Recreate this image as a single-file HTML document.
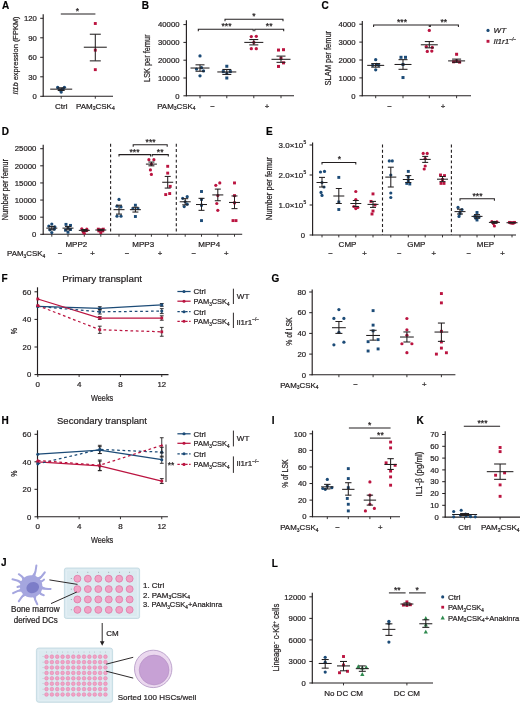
<!DOCTYPE html>
<html><head><meta charset="utf-8"><title>Figure</title>
<style>
html,body{margin:0;padding:0;background:#fff;}
body{width:520px;height:704px;overflow:hidden;}
svg{display:block;will-change:transform;}
text{stroke:#231f20;stroke-width:0.22px;font-family:"Liberation Sans", sans-serif;}
</style></head>
<body>
<svg width="520" height="704" viewBox="0 0 520 704">
<rect width="520" height="704" fill="#fff"/>
<text x="1.9" y="9.2" font-size="10" font-weight="bold" fill="#000">A</text>
<line x1="43.2" y1="14.3" x2="43.2" y2="96.8" stroke="#231f20" stroke-width="1.15"/>
<line x1="40.2" y1="96.3" x2="43.2" y2="96.3" stroke="#231f20" stroke-width="1.0"/>
<text x="36.8" y="99.05" font-size="7.7" text-anchor="end" fill="#231f20">0</text>
<line x1="40.2" y1="76.8" x2="43.2" y2="76.8" stroke="#231f20" stroke-width="1.0"/>
<text x="36.8" y="79.55" font-size="7.7" text-anchor="end" textLength="8.6" lengthAdjust="spacingAndGlyphs" fill="#231f20">30</text>
<line x1="40.2" y1="57.3" x2="43.2" y2="57.3" stroke="#231f20" stroke-width="1.0"/>
<text x="36.8" y="60.05" font-size="7.7" text-anchor="end" textLength="8.6" lengthAdjust="spacingAndGlyphs" fill="#231f20">60</text>
<line x1="40.2" y1="37.8" x2="43.2" y2="37.8" stroke="#231f20" stroke-width="1.0"/>
<text x="36.8" y="40.55" font-size="7.7" text-anchor="end" textLength="8.6" lengthAdjust="spacingAndGlyphs" fill="#231f20">90</text>
<line x1="40.2" y1="18.3" x2="43.2" y2="18.3" stroke="#231f20" stroke-width="1.0"/>
<text x="36.8" y="21.05" font-size="7.7" text-anchor="end" textLength="12.9" lengthAdjust="spacingAndGlyphs" fill="#231f20">120</text>
<line x1="42.7" y1="96.3" x2="113" y2="96.3" stroke="#231f20" stroke-width="1.1"/>
<line x1="61.2" y1="96.3" x2="61.2" y2="98.7" stroke="#231f20" stroke-width="0.9"/>
<line x1="95.3" y1="96.3" x2="95.3" y2="98.7" stroke="#231f20" stroke-width="0.9"/>
<text x="0" y="0" font-size="7.7" text-anchor="middle" fill="#231f20" transform="translate(18.4 55.4) rotate(-90)" textLength="78" lengthAdjust="spacingAndGlyphs"><tspan font-style="italic">Il1b</tspan> expression (FPKM)</text>
<text x="61.2" y="108.6" font-size="8" text-anchor="middle" fill="#231f20">Ctrl</text>
<text x="95.3" y="108.6" font-size="8" text-anchor="middle" fill="#231f20">PAM<tspan font-size="4.96" dy="1.6">3</tspan><tspan dy="-1.6">CSK</tspan><tspan font-size="4.96" dy="1.6">4</tspan><tspan dy="-1.6"></tspan></text>
<path d="M60.8 13.9 L60.8 13.9 L95.4 13.9 L95.4 13.9" fill="none" stroke="#231f20" stroke-width="1.05"/>
<text x="77.5" y="14.2" font-size="8.6" text-anchor="middle" fill="#231f20">*</text>
<circle cx="57.7" cy="87.52" r="1.65" fill="#1c4b77"/>
<circle cx="64.4" cy="87.33" r="1.65" fill="#1c4b77"/>
<circle cx="61.2" cy="92.08" r="1.65" fill="#1c4b77"/>
<circle cx="59.7" cy="89.8" r="1.65" fill="#1c4b77"/>
<circle cx="62.7" cy="89.15" r="1.65" fill="#1c4b77"/>
<line x1="50.2" y1="89.15" x2="72.2" y2="89.15" stroke="#231f20" stroke-width="1.05"/>
<line x1="61.2" y1="87.85" x2="61.2" y2="90.45" stroke="#231f20" stroke-width="1.05"/>
<line x1="57.7" y1="87.85" x2="64.7" y2="87.85" stroke="#231f20" stroke-width="1.05"/>
<line x1="57.7" y1="90.45" x2="64.7" y2="90.45" stroke="#231f20" stroke-width="1.05"/>
<rect x="93.85" y="22.05" width="2.9" height="2.9" fill="#bb1440"/>
<rect x="93.85" y="48.7" width="2.9" height="2.9" fill="#bb1440"/>
<rect x="93.85" y="68.2" width="2.9" height="2.9" fill="#bb1440"/>
<line x1="83.8" y1="47.22" x2="106.8" y2="47.22" stroke="#231f20" stroke-width="1.05"/>
<line x1="95.3" y1="34.22" x2="95.3" y2="60.87" stroke="#231f20" stroke-width="1.05"/>
<line x1="89.8" y1="34.22" x2="100.8" y2="34.22" stroke="#231f20" stroke-width="1.05"/>
<line x1="89.8" y1="60.87" x2="100.8" y2="60.87" stroke="#231f20" stroke-width="1.05"/>
<text x="141.7" y="9.3" font-size="10" font-weight="bold" fill="#000">B</text>
<line x1="186.4" y1="20.2" x2="186.4" y2="96.3" stroke="#231f20" stroke-width="1.15"/>
<line x1="183.4" y1="95.8" x2="186.4" y2="95.8" stroke="#231f20" stroke-width="1.0"/>
<text x="179.5" y="98.55" font-size="7.7" text-anchor="end" fill="#231f20">0</text>
<line x1="183.4" y1="78" x2="186.4" y2="78" stroke="#231f20" stroke-width="1.0"/>
<text x="179.5" y="80.75" font-size="7.7" text-anchor="end" textLength="21.5" lengthAdjust="spacingAndGlyphs" fill="#231f20">10000</text>
<line x1="183.4" y1="60.2" x2="186.4" y2="60.2" stroke="#231f20" stroke-width="1.0"/>
<text x="179.5" y="62.95" font-size="7.7" text-anchor="end" textLength="21.5" lengthAdjust="spacingAndGlyphs" fill="#231f20">20000</text>
<line x1="183.4" y1="42.4" x2="186.4" y2="42.4" stroke="#231f20" stroke-width="1.0"/>
<text x="179.5" y="45.15" font-size="7.7" text-anchor="end" textLength="21.5" lengthAdjust="spacingAndGlyphs" fill="#231f20">30000</text>
<line x1="183.4" y1="24.6" x2="186.4" y2="24.6" stroke="#231f20" stroke-width="1.0"/>
<text x="179.5" y="27.35" font-size="7.7" text-anchor="end" textLength="21.5" lengthAdjust="spacingAndGlyphs" fill="#231f20">40000</text>
<line x1="185.9" y1="95.8" x2="294" y2="95.8" stroke="#231f20" stroke-width="1.1"/>
<line x1="200" y1="95.8" x2="200" y2="98.2" stroke="#231f20" stroke-width="0.9"/>
<line x1="226.8" y1="95.8" x2="226.8" y2="98.2" stroke="#231f20" stroke-width="0.9"/>
<line x1="253.8" y1="95.8" x2="253.8" y2="98.2" stroke="#231f20" stroke-width="0.9"/>
<line x1="281" y1="95.8" x2="281" y2="98.2" stroke="#231f20" stroke-width="0.9"/>
<text x="0" y="0" font-size="8.3" text-anchor="middle" fill="#231f20" transform="translate(149.8 58.2) rotate(-90)" textLength="47.5" lengthAdjust="spacingAndGlyphs">LSK per femur</text>
<text x="157.2" y="108.8" font-size="7.9" fill="#231f20">PAM<tspan font-size="4.9" dy="1.6">3</tspan><tspan dy="-1.6">CSK</tspan><tspan font-size="4.9" dy="1.6">4</tspan><tspan dy="-1.6"></tspan></text>
<text x="212.5" y="108.6" font-size="7.8" text-anchor="middle" fill="#231f20">−</text>
<text x="267" y="108.6" font-size="7.8" text-anchor="middle" fill="#231f20">+</text>
<path d="M225 21.2 L225 19.2 L283 19.2 L283 21.2" fill="none" stroke="#231f20" stroke-width="1.05"/>
<text x="254" y="18.9" font-size="8.6" text-anchor="middle" fill="#231f20">*</text>
<path d="M198.3 31.3 L198.3 29.3 L253.2 29.3 L253.2 31.3" fill="none" stroke="#231f20" stroke-width="1.05"/>
<path d="M254.8 31.3 L254.8 29.3 L283.7 29.3 L283.7 31.3" fill="none" stroke="#231f20" stroke-width="1.05"/>
<text x="226.5" y="29.2" font-size="8.6" text-anchor="middle" fill="#231f20">***</text>
<text x="269.2" y="29.2" font-size="8.6" text-anchor="middle" fill="#231f20">**</text>
<circle cx="200" cy="55.93" r="1.65" fill="#1c4b77"/>
<circle cx="196.5" cy="69.1" r="1.65" fill="#1c4b77"/>
<circle cx="203.5" cy="70.88" r="1.65" fill="#1c4b77"/>
<circle cx="200" cy="75.79" r="1.65" fill="#1c4b77"/>
<circle cx="201.5" cy="67.68" r="1.65" fill="#1c4b77"/>
<line x1="190.5" y1="68.03" x2="209.5" y2="68.03" stroke="#231f20" stroke-width="1.05"/>
<line x1="200" y1="64.83" x2="200" y2="71.24" stroke="#231f20" stroke-width="1.05"/>
<line x1="195.5" y1="64.83" x2="204.5" y2="64.83" stroke="#231f20" stroke-width="1.05"/>
<line x1="195.5" y1="71.24" x2="204.5" y2="71.24" stroke="#231f20" stroke-width="1.05"/>
<rect x="225.3" y="64.75" width="3" height="3" fill="#1c4b77"/>
<rect x="221.8" y="70.09" width="3" height="3" fill="#1c4b77"/>
<rect x="228.8" y="70.09" width="3" height="3" fill="#1c4b77"/>
<rect x="225.3" y="76.5" width="3" height="3" fill="#1c4b77"/>
<rect x="225.3" y="72.05" width="3" height="3" fill="#1c4b77"/>
<line x1="217.3" y1="71.95" x2="236.3" y2="71.95" stroke="#231f20" stroke-width="1.05"/>
<line x1="226.8" y1="69.46" x2="226.8" y2="74.44" stroke="#231f20" stroke-width="1.05"/>
<line x1="222.3" y1="69.46" x2="231.3" y2="69.46" stroke="#231f20" stroke-width="1.05"/>
<line x1="222.3" y1="74.44" x2="231.3" y2="74.44" stroke="#231f20" stroke-width="1.05"/>
<circle cx="251.3" cy="36.53" r="1.65" fill="#bb1440"/>
<circle cx="256.3" cy="36.35" r="1.65" fill="#bb1440"/>
<circle cx="251.3" cy="48.63" r="1.65" fill="#bb1440"/>
<circle cx="256.3" cy="48.63" r="1.65" fill="#bb1440"/>
<circle cx="253.8" cy="42.4" r="1.65" fill="#bb1440"/>
<line x1="244.3" y1="42.4" x2="263.3" y2="42.4" stroke="#231f20" stroke-width="1.05"/>
<line x1="253.8" y1="39.55" x2="253.8" y2="44.89" stroke="#231f20" stroke-width="1.05"/>
<line x1="249.3" y1="39.55" x2="258.3" y2="39.55" stroke="#231f20" stroke-width="1.05"/>
<line x1="249.3" y1="44.89" x2="258.3" y2="44.89" stroke="#231f20" stroke-width="1.05"/>
<rect x="277" y="48.55" width="3" height="3" fill="#bb1440"/>
<rect x="282" y="48.2" width="3" height="3" fill="#bb1440"/>
<rect x="279.5" y="56.92" width="3" height="3" fill="#bb1440"/>
<rect x="277" y="64.93" width="3" height="3" fill="#bb1440"/>
<rect x="282" y="61.37" width="3" height="3" fill="#bb1440"/>
<line x1="271.5" y1="59.31" x2="290.5" y2="59.31" stroke="#231f20" stroke-width="1.05"/>
<line x1="281" y1="56.11" x2="281" y2="62.34" stroke="#231f20" stroke-width="1.05"/>
<line x1="276.5" y1="56.11" x2="285.5" y2="56.11" stroke="#231f20" stroke-width="1.05"/>
<line x1="276.5" y1="62.34" x2="285.5" y2="62.34" stroke="#231f20" stroke-width="1.05"/>
<text x="321.6" y="9.3" font-size="10" font-weight="bold" fill="#000">C</text>
<line x1="362.3" y1="21" x2="362.3" y2="96.3" stroke="#231f20" stroke-width="1.15"/>
<line x1="359.3" y1="95.8" x2="362.3" y2="95.8" stroke="#231f20" stroke-width="1.0"/>
<text x="355.6" y="98.55" font-size="7.7" text-anchor="end" fill="#231f20">0</text>
<line x1="359.3" y1="77.9" x2="362.3" y2="77.9" stroke="#231f20" stroke-width="1.0"/>
<text x="355.6" y="80.65" font-size="7.7" text-anchor="end" textLength="17.2" lengthAdjust="spacingAndGlyphs" fill="#231f20">1000</text>
<line x1="359.3" y1="60" x2="362.3" y2="60" stroke="#231f20" stroke-width="1.0"/>
<text x="355.6" y="62.75" font-size="7.7" text-anchor="end" textLength="17.2" lengthAdjust="spacingAndGlyphs" fill="#231f20">2000</text>
<line x1="359.3" y1="42.1" x2="362.3" y2="42.1" stroke="#231f20" stroke-width="1.0"/>
<text x="355.6" y="44.85" font-size="7.7" text-anchor="end" textLength="17.2" lengthAdjust="spacingAndGlyphs" fill="#231f20">3000</text>
<line x1="359.3" y1="24.2" x2="362.3" y2="24.2" stroke="#231f20" stroke-width="1.0"/>
<text x="355.6" y="26.95" font-size="7.7" text-anchor="end" textLength="17.2" lengthAdjust="spacingAndGlyphs" fill="#231f20">4000</text>
<line x1="361.8" y1="95.8" x2="471" y2="95.8" stroke="#231f20" stroke-width="1.1"/>
<line x1="375.7" y1="95.8" x2="375.7" y2="98.2" stroke="#231f20" stroke-width="0.9"/>
<line x1="403" y1="95.8" x2="403" y2="98.2" stroke="#231f20" stroke-width="0.9"/>
<line x1="429.3" y1="95.8" x2="429.3" y2="98.2" stroke="#231f20" stroke-width="0.9"/>
<line x1="456.6" y1="95.8" x2="456.6" y2="98.2" stroke="#231f20" stroke-width="0.9"/>
<text x="0" y="0" font-size="8.3" text-anchor="middle" fill="#231f20" transform="translate(331.2 58.2) rotate(-90)" textLength="54.5" lengthAdjust="spacingAndGlyphs">SLAM per femur</text>
<text x="389.5" y="108.6" font-size="7.8" text-anchor="middle" fill="#231f20">−</text>
<text x="443.1" y="108.6" font-size="7.8" text-anchor="middle" fill="#231f20">+</text>
<path d="M373.6 27 L373.6 25 L429.3 25 L429.3 27" fill="none" stroke="#231f20" stroke-width="1.05"/>
<path d="M430.3 27 L430.3 25 L458.4 25 L458.4 27" fill="none" stroke="#231f20" stroke-width="1.05"/>
<text x="402" y="24.9" font-size="8.6" text-anchor="middle" fill="#231f20">***</text>
<text x="443.8" y="24.9" font-size="8.6" text-anchor="middle" fill="#231f20">**</text>
<circle cx="375.7" cy="59.64" r="1.65" fill="#1c4b77"/>
<circle cx="372.7" cy="65.37" r="1.65" fill="#1c4b77"/>
<circle cx="378.7" cy="65.37" r="1.65" fill="#1c4b77"/>
<circle cx="375.7" cy="69.84" r="1.65" fill="#1c4b77"/>
<circle cx="376.7" cy="64.47" r="1.65" fill="#1c4b77"/>
<line x1="367.2" y1="65.37" x2="384.2" y2="65.37" stroke="#231f20" stroke-width="1.05"/>
<line x1="375.7" y1="63.58" x2="375.7" y2="67.16" stroke="#231f20" stroke-width="1.05"/>
<line x1="371.2" y1="63.58" x2="380.2" y2="63.58" stroke="#231f20" stroke-width="1.05"/>
<line x1="371.2" y1="67.16" x2="380.2" y2="67.16" stroke="#231f20" stroke-width="1.05"/>
<rect x="399.5" y="55.81" width="3" height="3" fill="#1c4b77"/>
<rect x="404" y="55.81" width="3" height="3" fill="#1c4b77"/>
<rect x="401.5" y="62.97" width="3" height="3" fill="#1c4b77"/>
<rect x="401.5" y="76.04" width="3" height="3" fill="#1c4b77"/>
<line x1="394.5" y1="64.47" x2="411.5" y2="64.47" stroke="#231f20" stroke-width="1.05"/>
<line x1="403" y1="59.64" x2="403" y2="69.31" stroke="#231f20" stroke-width="1.05"/>
<line x1="398.5" y1="59.64" x2="407.5" y2="59.64" stroke="#231f20" stroke-width="1.05"/>
<line x1="398.5" y1="69.31" x2="407.5" y2="69.31" stroke="#231f20" stroke-width="1.05"/>
<circle cx="429.3" cy="30.47" r="1.65" fill="#bb1440"/>
<circle cx="426.3" cy="46.57" r="1.65" fill="#bb1440"/>
<circle cx="432.3" cy="47.47" r="1.65" fill="#bb1440"/>
<circle cx="427.3" cy="51.41" r="1.65" fill="#bb1440"/>
<circle cx="431.8" cy="51.05" r="1.65" fill="#bb1440"/>
<line x1="420.8" y1="44.78" x2="437.8" y2="44.78" stroke="#231f20" stroke-width="1.05"/>
<line x1="429.3" y1="41.56" x2="429.3" y2="47.83" stroke="#231f20" stroke-width="1.05"/>
<line x1="424.8" y1="41.56" x2="433.8" y2="41.56" stroke="#231f20" stroke-width="1.05"/>
<line x1="424.8" y1="47.83" x2="433.8" y2="47.83" stroke="#231f20" stroke-width="1.05"/>
<rect x="455.1" y="52.77" width="3" height="3" fill="#bb1440"/>
<rect x="452.1" y="60.29" width="3" height="3" fill="#bb1440"/>
<rect x="458.1" y="60.65" width="3" height="3" fill="#bb1440"/>
<rect x="455.1" y="59.39" width="3" height="3" fill="#bb1440"/>
<line x1="448.1" y1="60.89" x2="465.1" y2="60.89" stroke="#231f20" stroke-width="1.05"/>
<line x1="456.6" y1="59.1" x2="456.6" y2="62.33" stroke="#231f20" stroke-width="1.05"/>
<line x1="452.1" y1="59.1" x2="461.1" y2="59.1" stroke="#231f20" stroke-width="1.05"/>
<line x1="452.1" y1="62.33" x2="461.1" y2="62.33" stroke="#231f20" stroke-width="1.05"/>
<circle cx="488" cy="30.4" r="1.6" fill="#1c4b77"/>
<text x="493.6" y="33.1" font-size="8" font-style="italic" fill="#231f20">WT</text>
<rect x="486.55" y="39.85" width="2.9" height="2.9" fill="#bb1440"/>
<text x="493.6" y="44.2" font-size="8" font-style="italic" fill="#231f20">Il1r1<tspan font-size="4.9" dy="-3.3">−/−</tspan></text>
<text x="1.8" y="135" font-size="10" font-weight="bold" fill="#000">D</text>
<line x1="43.2" y1="144.8" x2="43.2" y2="234.8" stroke="#231f20" stroke-width="1.15"/>
<line x1="40.2" y1="234.3" x2="43.2" y2="234.3" stroke="#231f20" stroke-width="1.0"/>
<text x="36.3" y="237.05" font-size="7.7" text-anchor="end" fill="#231f20">0</text>
<line x1="40.2" y1="217.18" x2="43.2" y2="217.18" stroke="#231f20" stroke-width="1.0"/>
<text x="36.3" y="219.93" font-size="7.7" text-anchor="end" textLength="17.2" lengthAdjust="spacingAndGlyphs" fill="#231f20">5000</text>
<line x1="40.2" y1="200.06" x2="43.2" y2="200.06" stroke="#231f20" stroke-width="1.0"/>
<text x="36.3" y="202.81" font-size="7.7" text-anchor="end" textLength="21.5" lengthAdjust="spacingAndGlyphs" fill="#231f20">10000</text>
<line x1="40.2" y1="182.94" x2="43.2" y2="182.94" stroke="#231f20" stroke-width="1.0"/>
<text x="36.3" y="185.69" font-size="7.7" text-anchor="end" textLength="21.5" lengthAdjust="spacingAndGlyphs" fill="#231f20">15000</text>
<line x1="40.2" y1="165.82" x2="43.2" y2="165.82" stroke="#231f20" stroke-width="1.0"/>
<text x="36.3" y="168.57" font-size="7.7" text-anchor="end" textLength="21.5" lengthAdjust="spacingAndGlyphs" fill="#231f20">20000</text>
<line x1="40.2" y1="148.7" x2="43.2" y2="148.7" stroke="#231f20" stroke-width="1.0"/>
<text x="36.3" y="151.45" font-size="7.7" text-anchor="end" textLength="21.5" lengthAdjust="spacingAndGlyphs" fill="#231f20">25000</text>
<line x1="42.7" y1="234.3" x2="242.2" y2="234.3" stroke="#231f20" stroke-width="1.1"/>
<line x1="51.8" y1="234.3" x2="51.8" y2="236.7" stroke="#231f20" stroke-width="0.9"/>
<line x1="68" y1="234.3" x2="68" y2="236.7" stroke="#231f20" stroke-width="0.9"/>
<line x1="84.3" y1="234.3" x2="84.3" y2="236.7" stroke="#231f20" stroke-width="0.9"/>
<line x1="100.8" y1="234.3" x2="100.8" y2="236.7" stroke="#231f20" stroke-width="0.9"/>
<line x1="119" y1="234.3" x2="119" y2="236.7" stroke="#231f20" stroke-width="0.9"/>
<line x1="135.4" y1="234.3" x2="135.4" y2="236.7" stroke="#231f20" stroke-width="0.9"/>
<line x1="151.4" y1="234.3" x2="151.4" y2="236.7" stroke="#231f20" stroke-width="0.9"/>
<line x1="167.7" y1="234.3" x2="167.7" y2="236.7" stroke="#231f20" stroke-width="0.9"/>
<line x1="185.2" y1="234.3" x2="185.2" y2="236.7" stroke="#231f20" stroke-width="0.9"/>
<line x1="201.5" y1="234.3" x2="201.5" y2="236.7" stroke="#231f20" stroke-width="0.9"/>
<line x1="217.8" y1="234.3" x2="217.8" y2="236.7" stroke="#231f20" stroke-width="0.9"/>
<line x1="234.5" y1="234.3" x2="234.5" y2="236.7" stroke="#231f20" stroke-width="0.9"/>
<line x1="110.6" y1="143.8" x2="110.6" y2="234.3" stroke="#231f20" stroke-width="1.1" stroke-dasharray="2.9,2.4"/>
<line x1="176.3" y1="143.8" x2="176.3" y2="234.3" stroke="#231f20" stroke-width="1.1" stroke-dasharray="2.9,2.4"/>
<text x="0" y="0" font-size="8.3" text-anchor="middle" fill="#231f20" transform="translate(8 189.8) rotate(-90)" textLength="61.5" lengthAdjust="spacingAndGlyphs">Number per femur</text>
<text x="76.3" y="246.7" font-size="8" text-anchor="middle" fill="#231f20">MPP2</text>
<text x="143.2" y="246.7" font-size="8" text-anchor="middle" fill="#231f20">MPP3</text>
<text x="209.2" y="246.7" font-size="8" text-anchor="middle" fill="#231f20">MPP4</text>
<text x="7" y="256.4" font-size="7.9" fill="#231f20">PAM<tspan font-size="4.9" dy="1.6">3</tspan><tspan dy="-1.6">CSK</tspan><tspan font-size="4.9" dy="1.6">4</tspan><tspan dy="-1.6"></tspan></text>
<text x="60" y="256.2" font-size="7.8" text-anchor="middle" fill="#231f20">−</text>
<text x="92.5" y="256.2" font-size="7.8" text-anchor="middle" fill="#231f20">+</text>
<text x="127" y="256.2" font-size="7.8" text-anchor="middle" fill="#231f20">−</text>
<text x="160" y="256.2" font-size="7.8" text-anchor="middle" fill="#231f20">+</text>
<text x="193.8" y="256.2" font-size="7.8" text-anchor="middle" fill="#231f20">−</text>
<text x="226.2" y="256.2" font-size="7.8" text-anchor="middle" fill="#231f20">+</text>
<path d="M133.2 146.8 L133.2 144.8 L167.2 144.8 L167.2 146.8" fill="none" stroke="#231f20" stroke-width="1.05"/>
<text x="150.6" y="144.7" font-size="8.6" text-anchor="middle" fill="#231f20">***</text>
<path d="M119 156.6 L119 154.6 L150.6 154.6 L150.6 156.6" fill="none" stroke="#231f20" stroke-width="1.05"/>
<path d="M152.2 156.6 L152.2 154.6 L168.3 154.6 L168.3 156.6" fill="none" stroke="#231f20" stroke-width="1.05"/>
<text x="134.5" y="154.5" font-size="8.6" text-anchor="middle" fill="#231f20">***</text>
<text x="160.2" y="154.5" font-size="8.6" text-anchor="middle" fill="#231f20">**</text>
<circle cx="51.8" cy="224.03" r="1.6" fill="#1c4b77"/>
<circle cx="48.8" cy="226.08" r="1.6" fill="#1c4b77"/>
<circle cx="54.8" cy="226.77" r="1.6" fill="#1c4b77"/>
<circle cx="49.8" cy="229.85" r="1.6" fill="#1c4b77"/>
<circle cx="51.8" cy="232.59" r="1.6" fill="#1c4b77"/>
<circle cx="54.3" cy="229.16" r="1.6" fill="#1c4b77"/>
<line x1="46.3" y1="228.14" x2="57.3" y2="228.14" stroke="#231f20" stroke-width="1.05"/>
<line x1="51.8" y1="226.42" x2="51.8" y2="229.85" stroke="#231f20" stroke-width="1.05"/>
<line x1="48.8" y1="226.42" x2="54.8" y2="226.42" stroke="#231f20" stroke-width="1.05"/>
<line x1="48.8" y1="229.85" x2="54.8" y2="229.85" stroke="#231f20" stroke-width="1.05"/>
<rect x="64.55" y="222.92" width="2.9" height="2.9" fill="#1c4b77"/>
<rect x="69.05" y="223.95" width="2.9" height="2.9" fill="#1c4b77"/>
<rect x="66.55" y="226.34" width="2.9" height="2.9" fill="#1c4b77"/>
<rect x="64.05" y="228.74" width="2.9" height="2.9" fill="#1c4b77"/>
<rect x="69.05" y="228.06" width="2.9" height="2.9" fill="#1c4b77"/>
<rect x="66.55" y="230.8" width="2.9" height="2.9" fill="#1c4b77"/>
<line x1="62.5" y1="228.14" x2="73.5" y2="228.14" stroke="#231f20" stroke-width="1.05"/>
<line x1="68" y1="226.42" x2="68" y2="229.85" stroke="#231f20" stroke-width="1.05"/>
<line x1="65" y1="226.42" x2="71" y2="226.42" stroke="#231f20" stroke-width="1.05"/>
<line x1="65" y1="229.85" x2="71" y2="229.85" stroke="#231f20" stroke-width="1.05"/>
<circle cx="81.8" cy="228.82" r="1.6" fill="#bb1440"/>
<circle cx="86.8" cy="229.16" r="1.6" fill="#bb1440"/>
<circle cx="84.3" cy="230.88" r="1.6" fill="#bb1440"/>
<circle cx="83.3" cy="231.9" r="1.6" fill="#bb1440"/>
<circle cx="84.3" cy="233.27" r="1.6" fill="#bb1440"/>
<circle cx="86.8" cy="230.53" r="1.6" fill="#bb1440"/>
<line x1="78.8" y1="230.36" x2="89.8" y2="230.36" stroke="#231f20" stroke-width="1.05"/>
<line x1="84.3" y1="229.51" x2="84.3" y2="231.22" stroke="#231f20" stroke-width="1.05"/>
<line x1="81.3" y1="229.51" x2="87.3" y2="229.51" stroke="#231f20" stroke-width="1.05"/>
<line x1="81.3" y1="231.22" x2="87.3" y2="231.22" stroke="#231f20" stroke-width="1.05"/>
<rect x="96.85" y="227.71" width="2.9" height="2.9" fill="#bb1440"/>
<rect x="101.85" y="227.71" width="2.9" height="2.9" fill="#bb1440"/>
<rect x="99.35" y="228.4" width="2.9" height="2.9" fill="#bb1440"/>
<rect x="97.35" y="229.43" width="2.9" height="2.9" fill="#bb1440"/>
<rect x="101.35" y="229.43" width="2.9" height="2.9" fill="#bb1440"/>
<rect x="99.35" y="231.14" width="2.9" height="2.9" fill="#bb1440"/>
<line x1="95.3" y1="230.02" x2="106.3" y2="230.02" stroke="#231f20" stroke-width="1.05"/>
<line x1="100.8" y1="229.34" x2="100.8" y2="230.7" stroke="#231f20" stroke-width="1.05"/>
<line x1="97.8" y1="229.34" x2="103.8" y2="229.34" stroke="#231f20" stroke-width="1.05"/>
<line x1="97.8" y1="230.7" x2="103.8" y2="230.7" stroke="#231f20" stroke-width="1.05"/>
<circle cx="119" cy="199.38" r="1.6" fill="#1c4b77"/>
<circle cx="117" cy="206.22" r="1.6" fill="#1c4b77"/>
<circle cx="121" cy="206.91" r="1.6" fill="#1c4b77"/>
<circle cx="117" cy="216.15" r="1.6" fill="#1c4b77"/>
<circle cx="121" cy="216.15" r="1.6" fill="#1c4b77"/>
<line x1="113.5" y1="209.65" x2="124.5" y2="209.65" stroke="#231f20" stroke-width="1.05"/>
<line x1="119" y1="205.2" x2="119" y2="214.1" stroke="#231f20" stroke-width="1.05"/>
<line x1="116" y1="205.2" x2="122" y2="205.2" stroke="#231f20" stroke-width="1.05"/>
<line x1="116" y1="214.1" x2="122" y2="214.1" stroke="#231f20" stroke-width="1.05"/>
<rect x="133.95" y="203.75" width="2.9" height="2.9" fill="#1c4b77"/>
<rect x="131.45" y="207.17" width="2.9" height="2.9" fill="#1c4b77"/>
<rect x="136.45" y="207.17" width="2.9" height="2.9" fill="#1c4b77"/>
<rect x="133.95" y="215.05" width="2.9" height="2.9" fill="#1c4b77"/>
<line x1="129.9" y1="209.65" x2="140.9" y2="209.65" stroke="#231f20" stroke-width="1.05"/>
<line x1="135.4" y1="207.25" x2="135.4" y2="212.04" stroke="#231f20" stroke-width="1.05"/>
<line x1="132.4" y1="207.25" x2="138.4" y2="207.25" stroke="#231f20" stroke-width="1.05"/>
<line x1="132.4" y1="212.04" x2="138.4" y2="212.04" stroke="#231f20" stroke-width="1.05"/>
<circle cx="148.9" cy="159.66" r="1.6" fill="#bb1440"/>
<circle cx="153.9" cy="159.66" r="1.6" fill="#bb1440"/>
<circle cx="151.4" cy="164.11" r="1.6" fill="#bb1440"/>
<circle cx="150.4" cy="169.93" r="1.6" fill="#bb1440"/>
<circle cx="151.4" cy="174.38" r="1.6" fill="#bb1440"/>
<line x1="145.9" y1="164.11" x2="156.9" y2="164.11" stroke="#231f20" stroke-width="1.05"/>
<line x1="151.4" y1="162.05" x2="151.4" y2="165.82" stroke="#231f20" stroke-width="1.05"/>
<line x1="148.4" y1="162.05" x2="154.4" y2="162.05" stroke="#231f20" stroke-width="1.05"/>
<line x1="148.4" y1="165.82" x2="154.4" y2="165.82" stroke="#231f20" stroke-width="1.05"/>
<rect x="166.25" y="164.85" width="2.9" height="2.9" fill="#bb1440"/>
<rect x="166.25" y="171.66" width="2.9" height="2.9" fill="#bb1440"/>
<rect x="168.75" y="184.91" width="2.9" height="2.9" fill="#bb1440"/>
<rect x="164.25" y="193.13" width="2.9" height="2.9" fill="#bb1440"/>
<rect x="168.25" y="192.1" width="2.9" height="2.9" fill="#bb1440"/>
<line x1="162.2" y1="182.26" x2="173.2" y2="182.26" stroke="#231f20" stroke-width="1.05"/>
<line x1="167.7" y1="176.43" x2="167.7" y2="188.08" stroke="#231f20" stroke-width="1.05"/>
<line x1="164.7" y1="176.43" x2="170.7" y2="176.43" stroke="#231f20" stroke-width="1.05"/>
<line x1="164.7" y1="188.08" x2="170.7" y2="188.08" stroke="#231f20" stroke-width="1.05"/>
<circle cx="187.2" cy="196.64" r="1.6" fill="#1c4b77"/>
<circle cx="182.7" cy="198.35" r="1.6" fill="#1c4b77"/>
<circle cx="185.2" cy="201.77" r="1.6" fill="#1c4b77"/>
<circle cx="187.2" cy="204.17" r="1.6" fill="#1c4b77"/>
<circle cx="184.2" cy="206.57" r="1.6" fill="#1c4b77"/>
<line x1="179.7" y1="201.77" x2="190.7" y2="201.77" stroke="#231f20" stroke-width="1.05"/>
<line x1="185.2" y1="198.69" x2="185.2" y2="204.85" stroke="#231f20" stroke-width="1.05"/>
<line x1="182.2" y1="198.69" x2="188.2" y2="198.69" stroke="#231f20" stroke-width="1.05"/>
<line x1="182.2" y1="204.85" x2="188.2" y2="204.85" stroke="#231f20" stroke-width="1.05"/>
<rect x="200.05" y="190.05" width="2.9" height="2.9" fill="#1c4b77"/>
<rect x="200.05" y="197.93" width="2.9" height="2.9" fill="#1c4b77"/>
<rect x="200.05" y="203.75" width="2.9" height="2.9" fill="#1c4b77"/>
<rect x="200.05" y="219.15" width="2.9" height="2.9" fill="#1c4b77"/>
<line x1="196" y1="204.51" x2="207" y2="204.51" stroke="#231f20" stroke-width="1.05"/>
<line x1="201.5" y1="198.35" x2="201.5" y2="210.33" stroke="#231f20" stroke-width="1.05"/>
<line x1="198.5" y1="198.35" x2="204.5" y2="198.35" stroke="#231f20" stroke-width="1.05"/>
<line x1="198.5" y1="210.33" x2="204.5" y2="210.33" stroke="#231f20" stroke-width="1.05"/>
<circle cx="219.8" cy="182.94" r="1.6" fill="#bb1440"/>
<circle cx="215.8" cy="185.34" r="1.6" fill="#bb1440"/>
<circle cx="217.8" cy="195.61" r="1.6" fill="#bb1440"/>
<circle cx="216.8" cy="203.48" r="1.6" fill="#bb1440"/>
<circle cx="217.8" cy="210.33" r="1.6" fill="#bb1440"/>
<line x1="212.3" y1="194.92" x2="223.3" y2="194.92" stroke="#231f20" stroke-width="1.05"/>
<line x1="217.8" y1="189.1" x2="217.8" y2="200.74" stroke="#231f20" stroke-width="1.05"/>
<line x1="214.8" y1="189.1" x2="220.8" y2="189.1" stroke="#231f20" stroke-width="1.05"/>
<line x1="214.8" y1="200.74" x2="220.8" y2="200.74" stroke="#231f20" stroke-width="1.05"/>
<rect x="233.05" y="181.49" width="2.9" height="2.9" fill="#bb1440"/>
<rect x="233.05" y="194.16" width="2.9" height="2.9" fill="#bb1440"/>
<rect x="233.05" y="201.35" width="2.9" height="2.9" fill="#bb1440"/>
<rect x="231.55" y="219.15" width="2.9" height="2.9" fill="#bb1440"/>
<rect x="234.55" y="219.15" width="2.9" height="2.9" fill="#bb1440"/>
<line x1="229" y1="202.46" x2="240" y2="202.46" stroke="#231f20" stroke-width="1.05"/>
<line x1="234.5" y1="195.95" x2="234.5" y2="208.62" stroke="#231f20" stroke-width="1.05"/>
<line x1="231.5" y1="195.95" x2="237.5" y2="195.95" stroke="#231f20" stroke-width="1.05"/>
<line x1="231.5" y1="208.62" x2="237.5" y2="208.62" stroke="#231f20" stroke-width="1.05"/>
<text x="265.9" y="135.2" font-size="10" font-weight="bold" fill="#000">E</text>
<line x1="312.6" y1="142.5" x2="312.6" y2="235.5" stroke="#231f20" stroke-width="1.15"/>
<line x1="309.6" y1="235" x2="312.6" y2="235" stroke="#231f20" stroke-width="1.0"/>
<text x="305" y="237.75" font-size="7.7" text-anchor="end" fill="#231f20">0</text>
<line x1="309.6" y1="205" x2="312.6" y2="205" stroke="#231f20" stroke-width="1.0"/>
<text x="278.6" y="207.75" font-size="7.7" fill="#231f20" textLength="24.6" lengthAdjust="spacingAndGlyphs">1.0×10</text><text x="303.4" y="204.4" font-size="4.9" fill="#231f20">5</text>
<line x1="309.6" y1="175" x2="312.6" y2="175" stroke="#231f20" stroke-width="1.0"/>
<text x="278.6" y="177.75" font-size="7.7" fill="#231f20" textLength="24.6" lengthAdjust="spacingAndGlyphs">2.0×10</text><text x="303.4" y="174.4" font-size="4.9" fill="#231f20">5</text>
<line x1="309.6" y1="145" x2="312.6" y2="145" stroke="#231f20" stroke-width="1.0"/>
<text x="278.6" y="147.75" font-size="7.7" fill="#231f20" textLength="24.6" lengthAdjust="spacingAndGlyphs">3.0×10</text><text x="303.4" y="144.4" font-size="4.9" fill="#231f20">5</text>
<line x1="312.1" y1="235" x2="516" y2="235" stroke="#231f20" stroke-width="1.1"/>
<line x1="322" y1="235" x2="322" y2="237.4" stroke="#231f20" stroke-width="0.9"/>
<line x1="338.8" y1="235" x2="338.8" y2="237.4" stroke="#231f20" stroke-width="0.9"/>
<line x1="355.8" y1="235" x2="355.8" y2="237.4" stroke="#231f20" stroke-width="0.9"/>
<line x1="373" y1="235" x2="373" y2="237.4" stroke="#231f20" stroke-width="0.9"/>
<line x1="390.8" y1="235" x2="390.8" y2="237.4" stroke="#231f20" stroke-width="0.9"/>
<line x1="408.3" y1="235" x2="408.3" y2="237.4" stroke="#231f20" stroke-width="0.9"/>
<line x1="425.2" y1="235" x2="425.2" y2="237.4" stroke="#231f20" stroke-width="0.9"/>
<line x1="442.5" y1="235" x2="442.5" y2="237.4" stroke="#231f20" stroke-width="0.9"/>
<line x1="460" y1="235" x2="460" y2="237.4" stroke="#231f20" stroke-width="0.9"/>
<line x1="477" y1="235" x2="477" y2="237.4" stroke="#231f20" stroke-width="0.9"/>
<line x1="494.4" y1="235" x2="494.4" y2="237.4" stroke="#231f20" stroke-width="0.9"/>
<line x1="512" y1="235" x2="512" y2="237.4" stroke="#231f20" stroke-width="0.9"/>
<line x1="382.5" y1="144.5" x2="382.5" y2="235" stroke="#231f20" stroke-width="1.1" stroke-dasharray="2.9,2.4"/>
<line x1="451.4" y1="144.5" x2="451.4" y2="235" stroke="#231f20" stroke-width="1.1" stroke-dasharray="2.9,2.4"/>
<text x="0" y="0" font-size="8.3" text-anchor="middle" fill="#231f20" transform="translate(272.4 188.7) rotate(-90)" textLength="63" lengthAdjust="spacingAndGlyphs">Number per femur</text>
<text x="347.5" y="247" font-size="8" text-anchor="middle" fill="#231f20">CMP</text>
<text x="416.3" y="247" font-size="8" text-anchor="middle" fill="#231f20">GMP</text>
<text x="485.5" y="247" font-size="8" text-anchor="middle" fill="#231f20">MEP</text>
<text x="330.5" y="256.4" font-size="7.8" text-anchor="middle" fill="#231f20">−</text>
<text x="364.5" y="256.4" font-size="7.8" text-anchor="middle" fill="#231f20">+</text>
<text x="399.4" y="256.4" font-size="7.8" text-anchor="middle" fill="#231f20">−</text>
<text x="433.8" y="256.4" font-size="7.8" text-anchor="middle" fill="#231f20">+</text>
<text x="468.9" y="256.4" font-size="7.8" text-anchor="middle" fill="#231f20">−</text>
<text x="502.5" y="256.4" font-size="7.8" text-anchor="middle" fill="#231f20">+</text>
<path d="M322 164.5 L322 162.5 L355.8 162.5 L355.8 164.5" fill="none" stroke="#231f20" stroke-width="1.05"/>
<text x="339.5" y="162.4" font-size="8.6" text-anchor="middle" fill="#231f20">*</text>
<path d="M460 200.7 L460 198.7 L494.4 198.7 L494.4 200.7" fill="none" stroke="#231f20" stroke-width="1.05"/>
<text x="477.5" y="198.5" font-size="8.6" text-anchor="middle" fill="#231f20">***</text>
<circle cx="320.5" cy="172" r="1.6" fill="#1c4b77"/>
<circle cx="324.5" cy="171.4" r="1.6" fill="#1c4b77"/>
<circle cx="322" cy="182.5" r="1.6" fill="#1c4b77"/>
<circle cx="321" cy="192.4" r="1.6" fill="#1c4b77"/>
<circle cx="322" cy="195.4" r="1.6" fill="#1c4b77"/>
<circle cx="324" cy="187" r="1.6" fill="#1c4b77"/>
<line x1="316.5" y1="182.5" x2="327.5" y2="182.5" stroke="#231f20" stroke-width="1.05"/>
<line x1="322" y1="177.4" x2="322" y2="187" stroke="#231f20" stroke-width="1.05"/>
<line x1="319" y1="177.4" x2="325" y2="177.4" stroke="#231f20" stroke-width="1.05"/>
<line x1="319" y1="187" x2="325" y2="187" stroke="#231f20" stroke-width="1.05"/>
<rect x="337.35" y="175.95" width="2.9" height="2.9" fill="#1c4b77"/>
<rect x="337.35" y="200.55" width="2.9" height="2.9" fill="#1c4b77"/>
<rect x="337.35" y="208.05" width="2.9" height="2.9" fill="#1c4b77"/>
<line x1="333.3" y1="196" x2="344.3" y2="196" stroke="#231f20" stroke-width="1.05"/>
<line x1="338.8" y1="188.5" x2="338.8" y2="203.5" stroke="#231f20" stroke-width="1.05"/>
<line x1="335.8" y1="188.5" x2="341.8" y2="188.5" stroke="#231f20" stroke-width="1.05"/>
<line x1="335.8" y1="203.5" x2="341.8" y2="203.5" stroke="#231f20" stroke-width="1.05"/>
<circle cx="355.8" cy="191.5" r="1.6" fill="#bb1440"/>
<circle cx="355.8" cy="199.6" r="1.6" fill="#bb1440"/>
<circle cx="353.8" cy="206.5" r="1.6" fill="#bb1440"/>
<circle cx="357.8" cy="207.4" r="1.6" fill="#bb1440"/>
<circle cx="355.8" cy="208.6" r="1.6" fill="#bb1440"/>
<line x1="350.3" y1="203.5" x2="361.3" y2="203.5" stroke="#231f20" stroke-width="1.05"/>
<line x1="355.8" y1="200.5" x2="355.8" y2="206.5" stroke="#231f20" stroke-width="1.05"/>
<line x1="352.8" y1="200.5" x2="358.8" y2="200.5" stroke="#231f20" stroke-width="1.05"/>
<line x1="352.8" y1="206.5" x2="358.8" y2="206.5" stroke="#231f20" stroke-width="1.05"/>
<rect x="371.55" y="192.45" width="2.9" height="2.9" fill="#bb1440"/>
<rect x="369.55" y="199.95" width="2.9" height="2.9" fill="#bb1440"/>
<rect x="373.55" y="203.55" width="2.9" height="2.9" fill="#bb1440"/>
<rect x="371.55" y="209.55" width="2.9" height="2.9" fill="#bb1440"/>
<rect x="370.55" y="212.55" width="2.9" height="2.9" fill="#bb1440"/>
<line x1="367.5" y1="204.4" x2="378.5" y2="204.4" stroke="#231f20" stroke-width="1.05"/>
<line x1="373" y1="201.4" x2="373" y2="207.4" stroke="#231f20" stroke-width="1.05"/>
<line x1="370" y1="201.4" x2="376" y2="201.4" stroke="#231f20" stroke-width="1.05"/>
<line x1="370" y1="207.4" x2="376" y2="207.4" stroke="#231f20" stroke-width="1.05"/>
<circle cx="389.3" cy="160.9" r="1.6" fill="#1c4b77"/>
<circle cx="392.3" cy="160.9" r="1.6" fill="#1c4b77"/>
<circle cx="390.8" cy="175" r="1.6" fill="#1c4b77"/>
<circle cx="390.8" cy="193" r="1.6" fill="#1c4b77"/>
<circle cx="390.8" cy="197.5" r="1.6" fill="#1c4b77"/>
<line x1="385.3" y1="177.1" x2="396.3" y2="177.1" stroke="#231f20" stroke-width="1.05"/>
<line x1="390.8" y1="167.2" x2="390.8" y2="187" stroke="#231f20" stroke-width="1.05"/>
<line x1="387.8" y1="167.2" x2="393.8" y2="167.2" stroke="#231f20" stroke-width="1.05"/>
<line x1="387.8" y1="187" x2="393.8" y2="187" stroke="#231f20" stroke-width="1.05"/>
<rect x="406.85" y="169.95" width="2.9" height="2.9" fill="#1c4b77"/>
<rect x="406.85" y="175.65" width="2.9" height="2.9" fill="#1c4b77"/>
<rect x="405.35" y="181.95" width="2.9" height="2.9" fill="#1c4b77"/>
<rect x="408.35" y="182.55" width="2.9" height="2.9" fill="#1c4b77"/>
<rect x="406.85" y="179.55" width="2.9" height="2.9" fill="#1c4b77"/>
<line x1="402.8" y1="179.5" x2="413.8" y2="179.5" stroke="#231f20" stroke-width="1.05"/>
<line x1="408.3" y1="175.6" x2="408.3" y2="182.5" stroke="#231f20" stroke-width="1.05"/>
<line x1="405.3" y1="175.6" x2="411.3" y2="175.6" stroke="#231f20" stroke-width="1.05"/>
<line x1="405.3" y1="182.5" x2="411.3" y2="182.5" stroke="#231f20" stroke-width="1.05"/>
<circle cx="423.2" cy="153.4" r="1.6" fill="#bb1440"/>
<circle cx="427.2" cy="153.4" r="1.6" fill="#bb1440"/>
<circle cx="425.2" cy="158.5" r="1.6" fill="#bb1440"/>
<circle cx="425.2" cy="166" r="1.6" fill="#bb1440"/>
<circle cx="424.2" cy="169" r="1.6" fill="#bb1440"/>
<line x1="419.7" y1="159.4" x2="430.7" y2="159.4" stroke="#231f20" stroke-width="1.05"/>
<line x1="425.2" y1="156.4" x2="425.2" y2="162.4" stroke="#231f20" stroke-width="1.05"/>
<line x1="422.2" y1="156.4" x2="428.2" y2="156.4" stroke="#231f20" stroke-width="1.05"/>
<line x1="422.2" y1="162.4" x2="428.2" y2="162.4" stroke="#231f20" stroke-width="1.05"/>
<rect x="439.05" y="173.55" width="2.9" height="2.9" fill="#bb1440"/>
<rect x="443.05" y="174.15" width="2.9" height="2.9" fill="#bb1440"/>
<rect x="441.05" y="178.05" width="2.9" height="2.9" fill="#bb1440"/>
<rect x="439.55" y="181.95" width="2.9" height="2.9" fill="#bb1440"/>
<rect x="442.55" y="181.95" width="2.9" height="2.9" fill="#bb1440"/>
<line x1="437" y1="179.2" x2="448" y2="179.2" stroke="#231f20" stroke-width="1.05"/>
<line x1="442.5" y1="176.5" x2="442.5" y2="181.6" stroke="#231f20" stroke-width="1.05"/>
<line x1="439.5" y1="176.5" x2="445.5" y2="176.5" stroke="#231f20" stroke-width="1.05"/>
<line x1="439.5" y1="181.6" x2="445.5" y2="181.6" stroke="#231f20" stroke-width="1.05"/>
<circle cx="458" cy="207.4" r="1.6" fill="#1c4b77"/>
<circle cx="462" cy="209.5" r="1.6" fill="#1c4b77"/>
<circle cx="460" cy="212.5" r="1.6" fill="#1c4b77"/>
<circle cx="459" cy="216.4" r="1.6" fill="#1c4b77"/>
<circle cx="460" cy="214" r="1.6" fill="#1c4b77"/>
<line x1="454.5" y1="211.6" x2="465.5" y2="211.6" stroke="#231f20" stroke-width="1.05"/>
<line x1="460" y1="209.2" x2="460" y2="214" stroke="#231f20" stroke-width="1.05"/>
<line x1="457" y1="209.2" x2="463" y2="209.2" stroke="#231f20" stroke-width="1.05"/>
<line x1="457" y1="214" x2="463" y2="214" stroke="#231f20" stroke-width="1.05"/>
<rect x="475.55" y="211.05" width="2.9" height="2.9" fill="#1c4b77"/>
<rect x="473.55" y="214.95" width="2.9" height="2.9" fill="#1c4b77"/>
<rect x="477.55" y="215.55" width="2.9" height="2.9" fill="#1c4b77"/>
<rect x="475.55" y="218.55" width="2.9" height="2.9" fill="#1c4b77"/>
<rect x="474.55" y="216.75" width="2.9" height="2.9" fill="#1c4b77"/>
<line x1="471.5" y1="216.4" x2="482.5" y2="216.4" stroke="#231f20" stroke-width="1.05"/>
<line x1="477" y1="214.6" x2="477" y2="218.2" stroke="#231f20" stroke-width="1.05"/>
<line x1="474" y1="214.6" x2="480" y2="214.6" stroke="#231f20" stroke-width="1.05"/>
<line x1="474" y1="218.2" x2="480" y2="218.2" stroke="#231f20" stroke-width="1.05"/>
<circle cx="491.9" cy="221.5" r="1.6" fill="#bb1440"/>
<circle cx="496.9" cy="221.8" r="1.6" fill="#bb1440"/>
<circle cx="494.4" cy="222.4" r="1.6" fill="#bb1440"/>
<circle cx="494.4" cy="226" r="1.6" fill="#bb1440"/>
<circle cx="493.4" cy="223.6" r="1.6" fill="#bb1440"/>
<line x1="488.9" y1="222.4" x2="499.9" y2="222.4" stroke="#231f20" stroke-width="1.05"/>
<line x1="494.4" y1="221.5" x2="494.4" y2="223.3" stroke="#231f20" stroke-width="1.05"/>
<line x1="491.4" y1="221.5" x2="497.4" y2="221.5" stroke="#231f20" stroke-width="1.05"/>
<line x1="491.4" y1="223.3" x2="497.4" y2="223.3" stroke="#231f20" stroke-width="1.05"/>
<rect x="508.05" y="220.95" width="2.9" height="2.9" fill="#bb1440"/>
<rect x="513.05" y="220.95" width="2.9" height="2.9" fill="#bb1440"/>
<rect x="510.55" y="221.25" width="2.9" height="2.9" fill="#bb1440"/>
<rect x="509.55" y="221.55" width="2.9" height="2.9" fill="#bb1440"/>
<rect x="511.55" y="221.85" width="2.9" height="2.9" fill="#bb1440"/>
<line x1="506.5" y1="222.7" x2="517.5" y2="222.7" stroke="#231f20" stroke-width="1.05"/>
<line x1="512" y1="222.4" x2="512" y2="223" stroke="#231f20" stroke-width="1.05"/>
<line x1="509" y1="222.4" x2="515" y2="222.4" stroke="#231f20" stroke-width="1.05"/>
<line x1="509" y1="223" x2="515" y2="223" stroke="#231f20" stroke-width="1.05"/>
<text x="1.5" y="281.8" font-size="10" font-weight="bold" fill="#000">F</text>
<line x1="37.5" y1="287.3" x2="37.5" y2="375.1" stroke="#231f20" stroke-width="1.15"/>
<line x1="34.5" y1="374.6" x2="37.5" y2="374.6" stroke="#231f20" stroke-width="1.0"/>
<text x="31.2" y="377.35" font-size="7.7" text-anchor="end" fill="#231f20">0</text>
<line x1="34.5" y1="347" x2="37.5" y2="347" stroke="#231f20" stroke-width="1.0"/>
<text x="31.2" y="349.75" font-size="7.7" text-anchor="end" textLength="8.6" lengthAdjust="spacingAndGlyphs" fill="#231f20">20</text>
<line x1="34.5" y1="319.4" x2="37.5" y2="319.4" stroke="#231f20" stroke-width="1.0"/>
<text x="31.2" y="322.15" font-size="7.7" text-anchor="end" textLength="8.6" lengthAdjust="spacingAndGlyphs" fill="#231f20">40</text>
<line x1="34.5" y1="291.8" x2="37.5" y2="291.8" stroke="#231f20" stroke-width="1.0"/>
<text x="31.2" y="294.55" font-size="7.7" text-anchor="end" textLength="8.6" lengthAdjust="spacingAndGlyphs" fill="#231f20">60</text>
<line x1="37" y1="374.6" x2="168.5" y2="374.6" stroke="#231f20" stroke-width="1.1"/>
<line x1="37.8" y1="374.6" x2="37.8" y2="377" stroke="#231f20" stroke-width="0.9"/>
<line x1="79.12" y1="374.6" x2="79.12" y2="377" stroke="#231f20" stroke-width="0.9"/>
<line x1="120.44" y1="374.6" x2="120.44" y2="377" stroke="#231f20" stroke-width="0.9"/>
<line x1="161.76" y1="374.6" x2="161.76" y2="377" stroke="#231f20" stroke-width="0.9"/>
<text x="37.8" y="386.9" font-size="8.0" text-anchor="middle" fill="#231f20">0</text>
<text x="79.12" y="386.9" font-size="8.0" text-anchor="middle" fill="#231f20">4</text>
<text x="120.44" y="386.9" font-size="8.0" text-anchor="middle" fill="#231f20">8</text>
<text x="161.76" y="386.9" font-size="8.0" text-anchor="middle" textLength="8.6" lengthAdjust="spacingAndGlyphs" fill="#231f20">12</text>
<text x="102.1" y="400.7" font-size="9.4" text-anchor="middle" textLength="22.2" lengthAdjust="spacingAndGlyphs" fill="#231f20">Weeks</text>
<text x="0" y="0" font-size="9.4" text-anchor="middle" fill="#231f20" transform="translate(16.8 331.2) rotate(-90)" textLength="6.2" lengthAdjust="spacingAndGlyphs">%</text>
<text x="62.3" y="281.9" font-size="9.8" textLength="79.8" lengthAdjust="spacingAndGlyphs" fill="#231f20">Primary transplant</text>
<path d="M37.8 306.29 L99.78 308.36 L161.76 304.91" fill="none" stroke="#1c4b77" stroke-width="1.25"/>
<circle cx="37.8" cy="306.29" r="1.55" fill="#1c4b77"/>
<line x1="99.78" y1="306.7" x2="99.78" y2="310.02" stroke="#231f20" stroke-width="0.9"/>
<line x1="97.88" y1="306.7" x2="101.68" y2="306.7" stroke="#231f20" stroke-width="0.9"/>
<line x1="97.88" y1="310.02" x2="101.68" y2="310.02" stroke="#231f20" stroke-width="0.9"/>
<circle cx="99.78" cy="308.36" r="1.55" fill="#1c4b77"/>
<line x1="161.76" y1="303.53" x2="161.76" y2="306.29" stroke="#231f20" stroke-width="0.9"/>
<line x1="159.86" y1="303.53" x2="163.66" y2="303.53" stroke="#231f20" stroke-width="0.9"/>
<line x1="159.86" y1="306.29" x2="163.66" y2="306.29" stroke="#231f20" stroke-width="0.9"/>
<circle cx="161.76" cy="304.91" r="1.55" fill="#1c4b77"/>
<path d="M37.8 298.98 L99.78 318.02 L161.76 318.02" fill="none" stroke="#bb1440" stroke-width="1.25"/>
<rect x="36.4" y="297.58" width="2.8" height="2.8" fill="#bb1440"/>
<line x1="99.78" y1="316.64" x2="99.78" y2="319.4" stroke="#231f20" stroke-width="0.9"/>
<line x1="97.88" y1="316.64" x2="101.68" y2="316.64" stroke="#231f20" stroke-width="0.9"/>
<line x1="97.88" y1="319.4" x2="101.68" y2="319.4" stroke="#231f20" stroke-width="0.9"/>
<rect x="98.38" y="316.62" width="2.8" height="2.8" fill="#bb1440"/>
<line x1="161.76" y1="315.81" x2="161.76" y2="320.23" stroke="#231f20" stroke-width="0.9"/>
<line x1="159.86" y1="315.81" x2="163.66" y2="315.81" stroke="#231f20" stroke-width="0.9"/>
<line x1="159.86" y1="320.23" x2="163.66" y2="320.23" stroke="#231f20" stroke-width="0.9"/>
<rect x="160.36" y="316.62" width="2.8" height="2.8" fill="#bb1440"/>
<path d="M37.8 306.43 L99.78 311.81 L161.76 311.12" fill="none" stroke="#1c4b77" stroke-width="1.25" stroke-dasharray="2.7,2.7"/>
<circle cx="37.8" cy="306.43" r="1.55" fill="#1c4b77"/>
<line x1="99.78" y1="309.6" x2="99.78" y2="314.02" stroke="#231f20" stroke-width="0.9"/>
<line x1="97.88" y1="309.6" x2="101.68" y2="309.6" stroke="#231f20" stroke-width="0.9"/>
<line x1="97.88" y1="314.02" x2="101.68" y2="314.02" stroke="#231f20" stroke-width="0.9"/>
<circle cx="99.78" cy="311.81" r="1.55" fill="#1c4b77"/>
<line x1="161.76" y1="308.64" x2="161.76" y2="313.6" stroke="#231f20" stroke-width="0.9"/>
<line x1="159.86" y1="308.64" x2="163.66" y2="308.64" stroke="#231f20" stroke-width="0.9"/>
<line x1="159.86" y1="313.6" x2="163.66" y2="313.6" stroke="#231f20" stroke-width="0.9"/>
<circle cx="161.76" cy="311.12" r="1.55" fill="#1c4b77"/>
<path d="M37.8 305.6 L99.78 329.75 L161.76 331.82" fill="none" stroke="#bb1440" stroke-width="1.25" stroke-dasharray="2.7,2.7"/>
<rect x="36.4" y="304.2" width="2.8" height="2.8" fill="#bb1440"/>
<line x1="99.78" y1="326.16" x2="99.78" y2="333.34" stroke="#231f20" stroke-width="0.9"/>
<line x1="97.88" y1="326.16" x2="101.68" y2="326.16" stroke="#231f20" stroke-width="0.9"/>
<line x1="97.88" y1="333.34" x2="101.68" y2="333.34" stroke="#231f20" stroke-width="0.9"/>
<rect x="98.38" y="328.35" width="2.8" height="2.8" fill="#bb1440"/>
<line x1="161.76" y1="327.4" x2="161.76" y2="336.24" stroke="#231f20" stroke-width="0.9"/>
<line x1="159.86" y1="327.4" x2="163.66" y2="327.4" stroke="#231f20" stroke-width="0.9"/>
<line x1="159.86" y1="336.24" x2="163.66" y2="336.24" stroke="#231f20" stroke-width="0.9"/>
<rect x="160.36" y="330.42" width="2.8" height="2.8" fill="#bb1440"/>
<line x1="177.4" y1="291.5" x2="190.6" y2="291.5" stroke="#1c4b77" stroke-width="1.25"/>
<circle cx="184" cy="291.5" r="1.55" fill="#1c4b77"/>
<text x="193.6" y="294.3" font-size="7.9" fill="#231f20">Ctrl</text>
<line x1="177.4" y1="301.2" x2="190.6" y2="301.2" stroke="#bb1440" stroke-width="1.25"/>
<circle cx="184" cy="301.2" r="1.55" fill="#bb1440"/>
<text x="193.6" y="304" font-size="7.7" textLength="36" lengthAdjust="spacingAndGlyphs" fill="#231f20">PAM<tspan font-size="4.77" dy="1.6">3</tspan><tspan dy="-1.6">CSK</tspan><tspan font-size="4.77" dy="1.6">4</tspan><tspan dy="-1.6"></tspan></text>
<line x1="177.4" y1="311.7" x2="190.6" y2="311.7" stroke="#1c4b77" stroke-width="1.25" stroke-dasharray="2.4,1.5"/>
<circle cx="184" cy="311.7" r="1.55" fill="#1c4b77"/>
<text x="193.6" y="314.5" font-size="7.9" fill="#231f20">Ctrl</text>
<line x1="177.4" y1="321.3" x2="190.6" y2="321.3" stroke="#bb1440" stroke-width="1.25" stroke-dasharray="2.4,1.5"/>
<circle cx="184" cy="321.3" r="1.55" fill="#bb1440"/>
<text x="193.6" y="324.1" font-size="7.7" textLength="36" lengthAdjust="spacingAndGlyphs" fill="#231f20">PAM<tspan font-size="4.77" dy="1.6">3</tspan><tspan dy="-1.6">CSK</tspan><tspan font-size="4.77" dy="1.6">4</tspan><tspan dy="-1.6"></tspan></text>
<line x1="233.4" y1="288.7" x2="233.4" y2="304" stroke="#231f20" stroke-width="0.95"/>
<text x="236.8" y="299.2" font-size="8.1" fill="#231f20">WT</text>
<line x1="233.4" y1="312.7" x2="233.4" y2="328" stroke="#231f20" stroke-width="0.95"/>
<text x="236.4" y="324.7" font-size="8.1" fill="#231f20">Il1r1<tspan font-size="4.8" dy="-3.3">−/−</tspan></text>
<text x="271.5" y="281.8" font-size="10" font-weight="bold" fill="#000">G</text>
<line x1="312.2" y1="289.4" x2="312.2" y2="375.3" stroke="#231f20" stroke-width="1.15"/>
<line x1="309.2" y1="374.8" x2="312.2" y2="374.8" stroke="#231f20" stroke-width="1.0"/>
<text x="306" y="377.55" font-size="7.7" text-anchor="end" fill="#231f20">0</text>
<line x1="309.2" y1="354.1" x2="312.2" y2="354.1" stroke="#231f20" stroke-width="1.0"/>
<text x="306" y="356.85" font-size="7.7" text-anchor="end" textLength="8.6" lengthAdjust="spacingAndGlyphs" fill="#231f20">20</text>
<line x1="309.2" y1="333.4" x2="312.2" y2="333.4" stroke="#231f20" stroke-width="1.0"/>
<text x="306" y="336.15" font-size="7.7" text-anchor="end" textLength="8.6" lengthAdjust="spacingAndGlyphs" fill="#231f20">40</text>
<line x1="309.2" y1="312.7" x2="312.2" y2="312.7" stroke="#231f20" stroke-width="1.0"/>
<text x="306" y="315.45" font-size="7.7" text-anchor="end" textLength="8.6" lengthAdjust="spacingAndGlyphs" fill="#231f20">60</text>
<line x1="309.2" y1="292" x2="312.2" y2="292" stroke="#231f20" stroke-width="1.0"/>
<text x="306" y="294.75" font-size="7.7" text-anchor="end" textLength="8.6" lengthAdjust="spacingAndGlyphs" fill="#231f20">80</text>
<line x1="311.7" y1="374.8" x2="455.4" y2="374.8" stroke="#231f20" stroke-width="1.1"/>
<line x1="338.9" y1="374.8" x2="338.9" y2="377.2" stroke="#231f20" stroke-width="0.9"/>
<line x1="373.1" y1="374.8" x2="373.1" y2="377.2" stroke="#231f20" stroke-width="0.9"/>
<line x1="406.9" y1="374.8" x2="406.9" y2="377.2" stroke="#231f20" stroke-width="0.9"/>
<line x1="441.4" y1="374.8" x2="441.4" y2="377.2" stroke="#231f20" stroke-width="0.9"/>
<text x="0" y="0" font-size="8.3" text-anchor="middle" fill="#231f20" transform="translate(291.6 331.6) rotate(-90)" textLength="28.4" lengthAdjust="spacingAndGlyphs">% of LSK</text>
<text x="280.2" y="387.6" font-size="7.9" fill="#231f20">PAM<tspan font-size="4.9" dy="1.6">3</tspan><tspan dy="-1.6">CSK</tspan><tspan font-size="4.9" dy="1.6">4</tspan><tspan dy="-1.6"></tspan></text>
<text x="355.6" y="387.4" font-size="7.8" text-anchor="middle" fill="#231f20">−</text>
<text x="424.4" y="387.4" font-size="7.8" text-anchor="middle" fill="#231f20">+</text>
<circle cx="338.9" cy="309.6" r="1.6" fill="#1c4b77"/>
<circle cx="333.9" cy="318.39" r="1.6" fill="#1c4b77"/>
<circle cx="343.9" cy="318.39" r="1.6" fill="#1c4b77"/>
<circle cx="338.9" cy="332.37" r="1.6" fill="#1c4b77"/>
<circle cx="333.9" cy="344.79" r="1.6" fill="#1c4b77"/>
<circle cx="343.9" cy="342.2" r="1.6" fill="#1c4b77"/>
<line x1="332" y1="327.71" x2="345.8" y2="327.71" stroke="#231f20" stroke-width="1.05"/>
<line x1="338.9" y1="321.5" x2="338.9" y2="333.4" stroke="#231f20" stroke-width="1.05"/>
<line x1="335.4" y1="321.5" x2="342.4" y2="321.5" stroke="#231f20" stroke-width="1.05"/>
<line x1="335.4" y1="333.4" x2="342.4" y2="333.4" stroke="#231f20" stroke-width="1.05"/>
<rect x="371.65" y="309.18" width="2.9" height="2.9" fill="#1c4b77"/>
<rect x="371.65" y="323.67" width="2.9" height="2.9" fill="#1c4b77"/>
<rect x="371.65" y="329.36" width="2.9" height="2.9" fill="#1c4b77"/>
<rect x="366.65" y="340.23" width="2.9" height="2.9" fill="#1c4b77"/>
<rect x="376.65" y="338.16" width="2.9" height="2.9" fill="#1c4b77"/>
<rect x="366.65" y="349.55" width="2.9" height="2.9" fill="#1c4b77"/>
<rect x="376.65" y="347.48" width="2.9" height="2.9" fill="#1c4b77"/>
<line x1="366.2" y1="335.47" x2="380" y2="335.47" stroke="#231f20" stroke-width="1.05"/>
<line x1="373.1" y1="330.3" x2="373.1" y2="340.13" stroke="#231f20" stroke-width="1.05"/>
<line x1="369.6" y1="330.3" x2="376.6" y2="330.3" stroke="#231f20" stroke-width="1.05"/>
<line x1="369.6" y1="340.13" x2="376.6" y2="340.13" stroke="#231f20" stroke-width="1.05"/>
<circle cx="406.9" cy="318.5" r="1.6" fill="#bb1440"/>
<circle cx="406.9" cy="329.78" r="1.6" fill="#bb1440"/>
<circle cx="406.9" cy="335.16" r="1.6" fill="#bb1440"/>
<circle cx="401.9" cy="343.75" r="1.6" fill="#bb1440"/>
<circle cx="411.9" cy="343.75" r="1.6" fill="#bb1440"/>
<circle cx="406.9" cy="352.65" r="1.6" fill="#bb1440"/>
<line x1="400" y1="337.02" x2="413.8" y2="337.02" stroke="#231f20" stroke-width="1.05"/>
<line x1="406.9" y1="331.95" x2="406.9" y2="341.99" stroke="#231f20" stroke-width="1.05"/>
<line x1="403.4" y1="331.95" x2="410.4" y2="331.95" stroke="#231f20" stroke-width="1.05"/>
<line x1="403.4" y1="341.99" x2="410.4" y2="341.99" stroke="#231f20" stroke-width="1.05"/>
<rect x="439.95" y="292.1" width="2.9" height="2.9" fill="#bb1440"/>
<rect x="439.95" y="301.42" width="2.9" height="2.9" fill="#bb1440"/>
<rect x="439.95" y="329.88" width="2.9" height="2.9" fill="#bb1440"/>
<rect x="439.95" y="340.54" width="2.9" height="2.9" fill="#bb1440"/>
<rect x="439.95" y="346.65" width="2.9" height="2.9" fill="#bb1440"/>
<rect x="434.95" y="352.65" width="2.9" height="2.9" fill="#bb1440"/>
<rect x="444.95" y="351.3" width="2.9" height="2.9" fill="#bb1440"/>
<line x1="434.5" y1="332.05" x2="448.3" y2="332.05" stroke="#231f20" stroke-width="1.05"/>
<line x1="441.4" y1="323.05" x2="441.4" y2="341.37" stroke="#231f20" stroke-width="1.05"/>
<line x1="437.9" y1="323.05" x2="444.9" y2="323.05" stroke="#231f20" stroke-width="1.05"/>
<line x1="437.9" y1="341.37" x2="444.9" y2="341.37" stroke="#231f20" stroke-width="1.05"/>
<text x="1.5" y="423.8" font-size="10" font-weight="bold" fill="#000">H</text>
<line x1="37.5" y1="430.3" x2="37.5" y2="517.3" stroke="#231f20" stroke-width="1.15"/>
<line x1="34.5" y1="516.8" x2="37.5" y2="516.8" stroke="#231f20" stroke-width="1.0"/>
<text x="31.2" y="519.55" font-size="7.7" text-anchor="end" fill="#231f20">0</text>
<line x1="34.5" y1="489.3" x2="37.5" y2="489.3" stroke="#231f20" stroke-width="1.0"/>
<text x="31.2" y="492.05" font-size="7.7" text-anchor="end" textLength="8.6" lengthAdjust="spacingAndGlyphs" fill="#231f20">20</text>
<line x1="34.5" y1="461.8" x2="37.5" y2="461.8" stroke="#231f20" stroke-width="1.0"/>
<text x="31.2" y="464.55" font-size="7.7" text-anchor="end" textLength="8.6" lengthAdjust="spacingAndGlyphs" fill="#231f20">40</text>
<line x1="34.5" y1="434.3" x2="37.5" y2="434.3" stroke="#231f20" stroke-width="1.0"/>
<text x="31.2" y="437.05" font-size="7.7" text-anchor="end" textLength="8.6" lengthAdjust="spacingAndGlyphs" fill="#231f20">60</text>
<line x1="37" y1="516.8" x2="167.9" y2="516.8" stroke="#231f20" stroke-width="1.1"/>
<line x1="37.8" y1="516.8" x2="37.8" y2="519.2" stroke="#231f20" stroke-width="0.9"/>
<line x1="79.12" y1="516.8" x2="79.12" y2="519.2" stroke="#231f20" stroke-width="0.9"/>
<line x1="120.44" y1="516.8" x2="120.44" y2="519.2" stroke="#231f20" stroke-width="0.9"/>
<line x1="161.76" y1="516.8" x2="161.76" y2="519.2" stroke="#231f20" stroke-width="0.9"/>
<text x="37.8" y="529.1" font-size="8.0" text-anchor="middle" fill="#231f20">0</text>
<text x="79.12" y="529.1" font-size="8.0" text-anchor="middle" fill="#231f20">4</text>
<text x="120.44" y="529.1" font-size="8.0" text-anchor="middle" fill="#231f20">8</text>
<text x="161.76" y="529.1" font-size="8.0" text-anchor="middle" textLength="8.6" lengthAdjust="spacingAndGlyphs" fill="#231f20">12</text>
<text x="102.1" y="542.9" font-size="9.4" text-anchor="middle" textLength="22.2" lengthAdjust="spacingAndGlyphs" fill="#231f20">Weeks</text>
<text x="0" y="0" font-size="9.4" text-anchor="middle" fill="#231f20" transform="translate(16.8 473.6) rotate(-90)" textLength="6.2" lengthAdjust="spacingAndGlyphs">%</text>
<text x="57" y="423.9" font-size="9.8" textLength="90" lengthAdjust="spacingAndGlyphs" fill="#231f20">Secondary transplant</text>
<path d="M37.8 454.24 L99.78 450.11 L161.76 459.74" fill="none" stroke="#1c4b77" stroke-width="1.25"/>
<circle cx="37.8" cy="454.24" r="1.55" fill="#1c4b77"/>
<line x1="99.78" y1="446.67" x2="99.78" y2="453.55" stroke="#231f20" stroke-width="0.9"/>
<line x1="97.88" y1="446.67" x2="101.68" y2="446.67" stroke="#231f20" stroke-width="0.9"/>
<line x1="97.88" y1="453.55" x2="101.68" y2="453.55" stroke="#231f20" stroke-width="0.9"/>
<circle cx="99.78" cy="450.11" r="1.55" fill="#1c4b77"/>
<line x1="161.76" y1="456.16" x2="161.76" y2="463.31" stroke="#231f20" stroke-width="0.9"/>
<line x1="159.86" y1="456.16" x2="163.66" y2="456.16" stroke="#231f20" stroke-width="0.9"/>
<line x1="159.86" y1="463.31" x2="163.66" y2="463.31" stroke="#231f20" stroke-width="0.9"/>
<circle cx="161.76" cy="459.74" r="1.55" fill="#1c4b77"/>
<path d="M37.8 461.8 L99.78 465.92 L161.76 481.05" fill="none" stroke="#bb1440" stroke-width="1.25"/>
<rect x="36.4" y="460.4" width="2.8" height="2.8" fill="#bb1440"/>
<line x1="99.78" y1="461.11" x2="99.78" y2="470.74" stroke="#231f20" stroke-width="0.9"/>
<line x1="97.88" y1="461.11" x2="101.68" y2="461.11" stroke="#231f20" stroke-width="0.9"/>
<line x1="97.88" y1="470.74" x2="101.68" y2="470.74" stroke="#231f20" stroke-width="0.9"/>
<rect x="98.38" y="464.52" width="2.8" height="2.8" fill="#bb1440"/>
<line x1="161.76" y1="478.57" x2="161.76" y2="483.52" stroke="#231f20" stroke-width="0.9"/>
<line x1="159.86" y1="478.57" x2="163.66" y2="478.57" stroke="#231f20" stroke-width="0.9"/>
<line x1="159.86" y1="483.52" x2="163.66" y2="483.52" stroke="#231f20" stroke-width="0.9"/>
<rect x="160.36" y="479.65" width="2.8" height="2.8" fill="#bb1440"/>
<path d="M37.8 463.86 L99.78 449.42 L161.76 452.17" fill="none" stroke="#1c4b77" stroke-width="1.25" stroke-dasharray="2.7,2.7"/>
<circle cx="37.8" cy="463.86" r="1.55" fill="#1c4b77"/>
<line x1="99.78" y1="445.3" x2="99.78" y2="453.55" stroke="#231f20" stroke-width="0.9"/>
<line x1="97.88" y1="445.3" x2="101.68" y2="445.3" stroke="#231f20" stroke-width="0.9"/>
<line x1="97.88" y1="453.55" x2="101.68" y2="453.55" stroke="#231f20" stroke-width="0.9"/>
<circle cx="99.78" cy="449.42" r="1.55" fill="#1c4b77"/>
<line x1="161.76" y1="447.36" x2="161.76" y2="456.99" stroke="#231f20" stroke-width="0.9"/>
<line x1="159.86" y1="447.36" x2="163.66" y2="447.36" stroke="#231f20" stroke-width="0.9"/>
<line x1="159.86" y1="456.99" x2="163.66" y2="456.99" stroke="#231f20" stroke-width="0.9"/>
<circle cx="161.76" cy="452.17" r="1.55" fill="#1c4b77"/>
<path d="M37.8 460.42 L99.78 465.24 L161.76 445.3" fill="none" stroke="#bb1440" stroke-width="1.25" stroke-dasharray="2.7,2.7"/>
<path d="M37.8 458.59 L39.45 461.65 L36.15 461.65Z" fill="#bb1440"/>
<line x1="99.78" y1="460.01" x2="99.78" y2="470.46" stroke="#231f20" stroke-width="0.9"/>
<line x1="97.88" y1="460.01" x2="101.68" y2="460.01" stroke="#231f20" stroke-width="0.9"/>
<line x1="97.88" y1="470.46" x2="101.68" y2="470.46" stroke="#231f20" stroke-width="0.9"/>
<path d="M99.78 463.4 L101.43 466.46 L98.13 466.46Z" fill="#bb1440"/>
<line x1="161.76" y1="437.74" x2="161.76" y2="452.86" stroke="#231f20" stroke-width="0.9"/>
<line x1="159.86" y1="437.74" x2="163.66" y2="437.74" stroke="#231f20" stroke-width="0.9"/>
<line x1="159.86" y1="452.86" x2="163.66" y2="452.86" stroke="#231f20" stroke-width="0.9"/>
<path d="M161.76 443.46 L163.41 446.52 L160.11 446.52Z" fill="#bb1440"/>
<line x1="166" y1="444.5" x2="166" y2="482" stroke="#231f20" stroke-width="0.95"/>
<text x="171" y="468.2" font-size="8.4" text-anchor="middle" fill="#231f20">**</text>
<line x1="177.4" y1="433.8" x2="190.6" y2="433.8" stroke="#1c4b77" stroke-width="1.25"/>
<circle cx="184" cy="433.8" r="1.55" fill="#1c4b77"/>
<text x="193.6" y="436.6" font-size="7.9" fill="#231f20">Ctrl</text>
<line x1="177.4" y1="443.3" x2="190.6" y2="443.3" stroke="#bb1440" stroke-width="1.25"/>
<circle cx="184" cy="443.3" r="1.55" fill="#bb1440"/>
<text x="193.6" y="446.1" font-size="7.7" textLength="36" lengthAdjust="spacingAndGlyphs" fill="#231f20">PAM<tspan font-size="4.77" dy="1.6">3</tspan><tspan dy="-1.6">CSK</tspan><tspan font-size="4.77" dy="1.6">4</tspan><tspan dy="-1.6"></tspan></text>
<line x1="177.4" y1="453.8" x2="190.6" y2="453.8" stroke="#1c4b77" stroke-width="1.25" stroke-dasharray="2.4,1.5"/>
<circle cx="184" cy="453.8" r="1.55" fill="#1c4b77"/>
<text x="193.6" y="456.6" font-size="7.9" fill="#231f20">Ctrl</text>
<line x1="177.4" y1="464.4" x2="190.6" y2="464.4" stroke="#bb1440" stroke-width="1.25" stroke-dasharray="2.4,1.5"/>
<circle cx="184" cy="464.4" r="1.55" fill="#bb1440"/>
<text x="193.6" y="467.2" font-size="7.7" textLength="36" lengthAdjust="spacingAndGlyphs" fill="#231f20">PAM<tspan font-size="4.77" dy="1.6">3</tspan><tspan dy="-1.6">CSK</tspan><tspan font-size="4.77" dy="1.6">4</tspan><tspan dy="-1.6"></tspan></text>
<line x1="233.4" y1="430.6" x2="233.4" y2="446.4" stroke="#231f20" stroke-width="0.95"/>
<text x="236.8" y="441.4" font-size="8.1" fill="#231f20">WT</text>
<line x1="233.4" y1="456.4" x2="233.4" y2="472.9" stroke="#231f20" stroke-width="0.95"/>
<text x="236.4" y="466.4" font-size="8.1" fill="#231f20">Il1r1<tspan font-size="4.8" dy="-3.3">−/−</tspan></text>
<text x="271.8" y="424" font-size="10" font-weight="bold" fill="#000">I</text>
<line x1="312.5" y1="430.6" x2="312.5" y2="517.2" stroke="#231f20" stroke-width="1.15"/>
<line x1="309.5" y1="516.7" x2="312.5" y2="516.7" stroke="#231f20" stroke-width="1.0"/>
<text x="306.6" y="519.45" font-size="7.7" text-anchor="end" fill="#231f20">0</text>
<line x1="309.5" y1="500.12" x2="312.5" y2="500.12" stroke="#231f20" stroke-width="1.0"/>
<text x="306.6" y="502.87" font-size="7.7" text-anchor="end" textLength="8.6" lengthAdjust="spacingAndGlyphs" fill="#231f20">20</text>
<line x1="309.5" y1="483.54" x2="312.5" y2="483.54" stroke="#231f20" stroke-width="1.0"/>
<text x="306.6" y="486.29" font-size="7.7" text-anchor="end" textLength="8.6" lengthAdjust="spacingAndGlyphs" fill="#231f20">40</text>
<line x1="309.5" y1="466.96" x2="312.5" y2="466.96" stroke="#231f20" stroke-width="1.0"/>
<text x="306.6" y="469.71" font-size="7.7" text-anchor="end" textLength="8.6" lengthAdjust="spacingAndGlyphs" fill="#231f20">60</text>
<line x1="309.5" y1="450.38" x2="312.5" y2="450.38" stroke="#231f20" stroke-width="1.0"/>
<text x="306.6" y="453.13" font-size="7.7" text-anchor="end" textLength="8.6" lengthAdjust="spacingAndGlyphs" fill="#231f20">80</text>
<line x1="309.5" y1="433.8" x2="312.5" y2="433.8" stroke="#231f20" stroke-width="1.0"/>
<text x="306.6" y="436.55" font-size="7.7" text-anchor="end" textLength="12.9" lengthAdjust="spacingAndGlyphs" fill="#231f20">100</text>
<line x1="312" y1="516.7" x2="400" y2="516.7" stroke="#231f20" stroke-width="1.1"/>
<line x1="327.3" y1="516.7" x2="327.3" y2="519.1" stroke="#231f20" stroke-width="0.9"/>
<line x1="348.3" y1="516.7" x2="348.3" y2="519.1" stroke="#231f20" stroke-width="0.9"/>
<line x1="369.9" y1="516.7" x2="369.9" y2="519.1" stroke="#231f20" stroke-width="0.9"/>
<line x1="390.6" y1="516.7" x2="390.6" y2="519.1" stroke="#231f20" stroke-width="0.9"/>
<text x="0" y="0" font-size="8.3" text-anchor="middle" fill="#231f20" transform="translate(288 473.7) rotate(-90)" textLength="28.3" lengthAdjust="spacingAndGlyphs">% of LSK</text>
<text x="280.2" y="530" font-size="7.9" fill="#231f20">PAM<tspan font-size="4.9" dy="1.6">3</tspan><tspan dy="-1.6">CSK</tspan><tspan font-size="4.9" dy="1.6">4</tspan><tspan dy="-1.6"></tspan></text>
<text x="337.5" y="529.8" font-size="7.8" text-anchor="middle" fill="#231f20">−</text>
<text x="380.4" y="529.8" font-size="7.8" text-anchor="middle" fill="#231f20">+</text>
<path d="M348.9 427.9 L348.9 427.9 L390.6 427.9 L390.6 427.9" fill="none" stroke="#231f20" stroke-width="1.05"/>
<text x="369.6" y="427.9" font-size="8.6" text-anchor="middle" fill="#231f20">*</text>
<path d="M369.9 438.1 L369.9 438.1 L390.6 438.1 L390.6 438.1" fill="none" stroke="#231f20" stroke-width="1.05"/>
<text x="380.4" y="438.1" font-size="8.6" text-anchor="middle" fill="#231f20">**</text>
<circle cx="327.3" cy="479.4" r="1.6" fill="#1c4b77"/>
<circle cx="322.8" cy="488.51" r="1.6" fill="#1c4b77"/>
<circle cx="331.8" cy="487.69" r="1.6" fill="#1c4b77"/>
<circle cx="327.3" cy="486.03" r="1.6" fill="#1c4b77"/>
<circle cx="325.3" cy="489.34" r="1.6" fill="#1c4b77"/>
<line x1="321.1" y1="486.86" x2="333.5" y2="486.86" stroke="#231f20" stroke-width="1.05"/>
<line x1="327.3" y1="484.37" x2="327.3" y2="488.93" stroke="#231f20" stroke-width="1.05"/>
<line x1="324.1" y1="484.37" x2="330.5" y2="484.37" stroke="#231f20" stroke-width="1.05"/>
<line x1="324.1" y1="488.93" x2="330.5" y2="488.93" stroke="#231f20" stroke-width="1.05"/>
<rect x="346.85" y="467.17" width="2.9" height="2.9" fill="#1c4b77"/>
<rect x="346.85" y="477.12" width="2.9" height="2.9" fill="#1c4b77"/>
<rect x="346.85" y="486.24" width="2.9" height="2.9" fill="#1c4b77"/>
<rect x="345.85" y="497.01" width="2.9" height="2.9" fill="#1c4b77"/>
<rect x="346.85" y="502.82" width="2.9" height="2.9" fill="#1c4b77"/>
<rect x="346.85" y="509.45" width="2.9" height="2.9" fill="#1c4b77"/>
<line x1="342.1" y1="489.34" x2="354.5" y2="489.34" stroke="#231f20" stroke-width="1.05"/>
<line x1="348.3" y1="482.71" x2="348.3" y2="495.15" stroke="#231f20" stroke-width="1.05"/>
<line x1="345.1" y1="482.71" x2="351.5" y2="482.71" stroke="#231f20" stroke-width="1.05"/>
<line x1="345.1" y1="495.15" x2="351.5" y2="495.15" stroke="#231f20" stroke-width="1.05"/>
<circle cx="369.9" cy="481.88" r="1.6" fill="#bb1440"/>
<circle cx="369.9" cy="495.15" r="1.6" fill="#bb1440"/>
<circle cx="369.9" cy="504.27" r="1.6" fill="#bb1440"/>
<circle cx="374.4" cy="508.41" r="1.6" fill="#bb1440"/>
<circle cx="365.4" cy="510.9" r="1.6" fill="#bb1440"/>
<line x1="363.7" y1="500.12" x2="376.1" y2="500.12" stroke="#231f20" stroke-width="1.05"/>
<line x1="369.9" y1="495.15" x2="369.9" y2="505.09" stroke="#231f20" stroke-width="1.05"/>
<line x1="366.7" y1="495.15" x2="373.1" y2="495.15" stroke="#231f20" stroke-width="1.05"/>
<line x1="366.7" y1="505.09" x2="373.1" y2="505.09" stroke="#231f20" stroke-width="1.05"/>
<rect x="389.15" y="440.64" width="2.9" height="2.9" fill="#bb1440"/>
<rect x="389.15" y="446.44" width="2.9" height="2.9" fill="#bb1440"/>
<rect x="384.65" y="461.37" width="2.9" height="2.9" fill="#bb1440"/>
<rect x="393.65" y="463.85" width="2.9" height="2.9" fill="#bb1440"/>
<rect x="389.15" y="469.66" width="2.9" height="2.9" fill="#bb1440"/>
<rect x="389.15" y="475.46" width="2.9" height="2.9" fill="#bb1440"/>
<rect x="389.15" y="483.75" width="2.9" height="2.9" fill="#bb1440"/>
<line x1="384.4" y1="464.47" x2="396.8" y2="464.47" stroke="#231f20" stroke-width="1.05"/>
<line x1="390.6" y1="458.67" x2="390.6" y2="469.45" stroke="#231f20" stroke-width="1.05"/>
<line x1="387.4" y1="458.67" x2="393.8" y2="458.67" stroke="#231f20" stroke-width="1.05"/>
<line x1="387.4" y1="469.45" x2="393.8" y2="469.45" stroke="#231f20" stroke-width="1.05"/>
<text x="416.6" y="424" font-size="10" font-weight="bold" fill="#000">K</text>
<line x1="445.2" y1="431.2" x2="445.2" y2="517.6" stroke="#231f20" stroke-width="1.15"/>
<line x1="442.2" y1="517.1" x2="445.2" y2="517.1" stroke="#231f20" stroke-width="1.0"/>
<text x="438.8" y="519.85" font-size="7.7" text-anchor="end" fill="#231f20">0</text>
<line x1="442.2" y1="505.3" x2="445.2" y2="505.3" stroke="#231f20" stroke-width="1.0"/>
<text x="438.8" y="508.05" font-size="7.7" text-anchor="end" textLength="8.6" lengthAdjust="spacingAndGlyphs" fill="#231f20">10</text>
<line x1="442.2" y1="493.5" x2="445.2" y2="493.5" stroke="#231f20" stroke-width="1.0"/>
<text x="438.8" y="496.25" font-size="7.7" text-anchor="end" textLength="8.6" lengthAdjust="spacingAndGlyphs" fill="#231f20">20</text>
<line x1="442.2" y1="481.7" x2="445.2" y2="481.7" stroke="#231f20" stroke-width="1.0"/>
<text x="438.8" y="484.45" font-size="7.7" text-anchor="end" textLength="8.6" lengthAdjust="spacingAndGlyphs" fill="#231f20">30</text>
<line x1="442.2" y1="469.9" x2="445.2" y2="469.9" stroke="#231f20" stroke-width="1.0"/>
<text x="438.8" y="472.65" font-size="7.7" text-anchor="end" textLength="8.6" lengthAdjust="spacingAndGlyphs" fill="#231f20">40</text>
<line x1="442.2" y1="458.1" x2="445.2" y2="458.1" stroke="#231f20" stroke-width="1.0"/>
<text x="438.8" y="460.85" font-size="7.7" text-anchor="end" textLength="8.6" lengthAdjust="spacingAndGlyphs" fill="#231f20">50</text>
<line x1="442.2" y1="446.3" x2="445.2" y2="446.3" stroke="#231f20" stroke-width="1.0"/>
<text x="438.8" y="449.05" font-size="7.7" text-anchor="end" textLength="8.6" lengthAdjust="spacingAndGlyphs" fill="#231f20">60</text>
<line x1="442.2" y1="434.5" x2="445.2" y2="434.5" stroke="#231f20" stroke-width="1.0"/>
<text x="438.8" y="437.25" font-size="7.7" text-anchor="end" textLength="8.6" lengthAdjust="spacingAndGlyphs" fill="#231f20">70</text>
<line x1="444.7" y1="517.1" x2="520" y2="517.1" stroke="#231f20" stroke-width="1.1"/>
<line x1="464.6" y1="517.1" x2="464.6" y2="519.5" stroke="#231f20" stroke-width="0.9"/>
<line x1="500.1" y1="517.1" x2="500.1" y2="519.5" stroke="#231f20" stroke-width="0.9"/>
<text x="0" y="0" font-size="8.3" text-anchor="middle" fill="#231f20" transform="translate(421.8 474) rotate(-90)" textLength="45" lengthAdjust="spacingAndGlyphs">IL1-β (pg/ml)</text>
<text x="464.6" y="530" font-size="8" text-anchor="middle" fill="#231f20">Ctrl</text>
<text x="480.9" y="530" font-size="8" fill="#231f20">PAM<tspan font-size="4.96" dy="1.6">3</tspan><tspan dy="-1.6">CSK</tspan><tspan font-size="4.96" dy="1.6">4</tspan><tspan dy="-1.6"></tspan></text>
<path d="M463.8 426.2 L463.8 426.2 L500.1 426.2 L500.1 426.2" fill="none" stroke="#231f20" stroke-width="1.05"/>
<text x="482.5" y="426.3" font-size="8.6" text-anchor="middle" fill="#231f20">***</text>
<circle cx="453.7" cy="511.44" r="1.55" fill="#1c4b77"/>
<circle cx="461.2" cy="510.26" r="1.55" fill="#1c4b77"/>
<circle cx="465.6" cy="514.15" r="1.55" fill="#1c4b77"/>
<circle cx="453.7" cy="516.86" r="1.55" fill="#1c4b77"/>
<circle cx="460.6" cy="515.33" r="1.55" fill="#1c4b77"/>
<circle cx="470.1" cy="515.57" r="1.55" fill="#1c4b77"/>
<circle cx="475.3" cy="516.86" r="1.55" fill="#1c4b77"/>
<circle cx="466.1" cy="515.92" r="1.55" fill="#1c4b77"/>
<circle cx="470.6" cy="516.75" r="1.55" fill="#1c4b77"/>
<line x1="452.1" y1="514.5" x2="477.1" y2="514.5" stroke="#231f20" stroke-width="1.05"/>
<line x1="464.6" y1="513.56" x2="464.6" y2="515.45" stroke="#231f20" stroke-width="1.05"/>
<line x1="460.1" y1="513.56" x2="469.1" y2="513.56" stroke="#231f20" stroke-width="1.05"/>
<line x1="460.1" y1="515.45" x2="469.1" y2="515.45" stroke="#231f20" stroke-width="1.05"/>
<rect x="498.65" y="446.03" width="2.9" height="2.9" fill="#bb1440"/>
<rect x="498.65" y="450.16" width="2.9" height="2.9" fill="#bb1440"/>
<rect x="494.15" y="473.76" width="2.9" height="2.9" fill="#bb1440"/>
<rect x="503.15" y="471.4" width="2.9" height="2.9" fill="#bb1440"/>
<rect x="498.65" y="483.44" width="2.9" height="2.9" fill="#bb1440"/>
<rect x="498.65" y="494.88" width="2.9" height="2.9" fill="#bb1440"/>
<line x1="486.8" y1="471.67" x2="513.4" y2="471.67" stroke="#231f20" stroke-width="1.05"/>
<line x1="500.1" y1="464" x2="500.1" y2="479.34" stroke="#231f20" stroke-width="1.05"/>
<line x1="494.1" y1="464" x2="506.1" y2="464" stroke="#231f20" stroke-width="1.05"/>
<line x1="494.1" y1="479.34" x2="506.1" y2="479.34" stroke="#231f20" stroke-width="1.05"/>
<text x="1" y="566.2" font-size="10" font-weight="bold" fill="#000">J</text>
<path d="M33.25 578.15 Q35.99 572.12 36.4 565.5" stroke="#a5a6df" stroke-width="2.0" stroke-linecap="round" fill="none"/>
<path d="M35.7 578.25 L35 571.12 L31.04 577.09Z" fill="#a5a6df"/>
<path d="M25.14 580.44 Q22.81 576.46 18.8 574.2" stroke="#a5a6df" stroke-width="2.0" stroke-linecap="round" fill="none"/>
<path d="M26.47 578.38 L21.31 576.67 L23.1 581.8Z" fill="#a5a6df"/>
<path d="M37.12 580.3 Q41.82 577.19 44.8 572.4" stroke="#a5a6df" stroke-width="2.0" stroke-linecap="round" fill="none"/>
<path d="M39.19 581.62 L41.54 575.76 L35.75 578.27Z" fill="#a5a6df"/>
<path d="M23.25 583.38 Q18.3 580.22 12.5 579.3" stroke="#a5a6df" stroke-width="2.0" stroke-linecap="round" fill="none"/>
<path d="M23.64 580.96 L17.13 581.06 L21.93 585.45Z" fill="#a5a6df"/>
<path d="M39.63 587.49 Q44.96 589.38 50.6 588.9" stroke="#a5a6df" stroke-width="2.0" stroke-linecap="round" fill="none"/>
<path d="M39.82 589.93 L45.93 588.3 L40.43 585.17Z" fill="#a5a6df"/>
<path d="M23.24 589.39 Q17.75 590.17 13.1 593.2" stroke="#a5a6df" stroke-width="2.0" stroke-linecap="round" fill="none"/>
<path d="M21.93 587.32 L17.39 591.59 L23.62 591.81Z" fill="#a5a6df"/>
<path d="M25.76 592.93 Q21.36 596.35 18.8 601.3" stroke="#a5a6df" stroke-width="2.0" stroke-linecap="round" fill="none"/>
<path d="M23.6 591.78 L21.75 597.76 L27.29 594.85Z" fill="#a5a6df"/>
<path d="M33.96 594.44 Q34.49 599.71 37.3 604.2" stroke="#a5a6df" stroke-width="2.0" stroke-linecap="round" fill="none"/>
<path d="M31.85 595.69 L35.91 600.13 L36.39 594.14Z" fill="#a5a6df"/>
<path d="M38.14 591.3 Q40.28 594.28 43.8 595.3" stroke="#a5a6df" stroke-width="2.0" stroke-linecap="round" fill="none"/>
<path d="M37.17 593.55 L41.81 593.9 L39.94 589.63Z" fill="#a5a6df"/>
<path d="M38.71 582.41 Q41.92 582.07 44 579.6" stroke="#a5a6df" stroke-width="2.0" stroke-linecap="round" fill="none"/>
<path d="M40.27 584.3 L42.3 580.5 L38.02 580.06Z" fill="#a5a6df"/>
<path d="M22.71 586.77 Q20.05 585.69 17.5 587" stroke="#a5a6df" stroke-width="2.0" stroke-linecap="round" fill="none"/>
<path d="M22.1 584.4 L18.99 586.93 L22.31 589.19Z" fill="#a5a6df"/>
<circle cx="31.2" cy="586.4" r="11.2" fill="#a5a6df"/>
<ellipse cx="32.7" cy="587.6" rx="6.5" ry="5.5" fill="#7c7dc8" transform="rotate(-25 32.7 587.6)"/>
<text x="35.3" y="611.8" font-size="8.2" text-anchor="middle" textLength="48.5" lengthAdjust="spacingAndGlyphs" fill="#231f20">Bone marrow</text>
<text x="35.7" y="622.5" font-size="8.2" text-anchor="middle" textLength="44" lengthAdjust="spacingAndGlyphs" fill="#231f20">derived DCs</text>
<rect x="64.4" y="568" width="75.2" height="50.5" rx="2" fill="#dbeaf0" stroke="#bcd5de" stroke-width="0.8"/>
<circle cx="77.4" cy="578.7" r="3.45" fill="#f1a2c5" stroke="#e17eab" stroke-width="0.9"/>
<circle cx="87.85" cy="578.7" r="3.45" fill="#f1a2c5" stroke="#e17eab" stroke-width="0.9"/>
<circle cx="98.3" cy="578.7" r="3.45" fill="#f1a2c5" stroke="#e17eab" stroke-width="0.9"/>
<circle cx="108.75" cy="578.7" r="3.45" fill="#f1a2c5" stroke="#e17eab" stroke-width="0.9"/>
<circle cx="119.2" cy="578.7" r="3.45" fill="#f1a2c5" stroke="#e17eab" stroke-width="0.9"/>
<circle cx="129.65" cy="578.7" r="3.45" fill="#f1a2c5" stroke="#e17eab" stroke-width="0.9"/>
<circle cx="77.4" cy="589.08" r="3.45" fill="#f1a2c5" stroke="#e17eab" stroke-width="0.9"/>
<circle cx="87.85" cy="589.08" r="3.45" fill="#f1a2c5" stroke="#e17eab" stroke-width="0.9"/>
<circle cx="98.3" cy="589.08" r="3.45" fill="#f1a2c5" stroke="#e17eab" stroke-width="0.9"/>
<circle cx="108.75" cy="589.08" r="3.45" fill="#f1a2c5" stroke="#e17eab" stroke-width="0.9"/>
<circle cx="119.2" cy="589.08" r="3.45" fill="#f1a2c5" stroke="#e17eab" stroke-width="0.9"/>
<circle cx="129.65" cy="589.08" r="3.45" fill="#f1a2c5" stroke="#e17eab" stroke-width="0.9"/>
<circle cx="77.4" cy="599.46" r="3.45" fill="#f1a2c5" stroke="#e17eab" stroke-width="0.9"/>
<circle cx="87.85" cy="599.46" r="3.45" fill="#f1a2c5" stroke="#e17eab" stroke-width="0.9"/>
<circle cx="98.3" cy="599.46" r="3.45" fill="#f1a2c5" stroke="#e17eab" stroke-width="0.9"/>
<circle cx="108.75" cy="599.46" r="3.45" fill="#f1a2c5" stroke="#e17eab" stroke-width="0.9"/>
<circle cx="119.2" cy="599.46" r="3.45" fill="#f1a2c5" stroke="#e17eab" stroke-width="0.9"/>
<circle cx="129.65" cy="599.46" r="3.45" fill="#f1a2c5" stroke="#e17eab" stroke-width="0.9"/>
<circle cx="77.4" cy="609.84" r="3.45" fill="#f1a2c5" stroke="#e17eab" stroke-width="0.9"/>
<circle cx="87.85" cy="609.84" r="3.45" fill="#f1a2c5" stroke="#e17eab" stroke-width="0.9"/>
<circle cx="98.3" cy="609.84" r="3.45" fill="#f1a2c5" stroke="#e17eab" stroke-width="0.9"/>
<circle cx="108.75" cy="609.84" r="3.45" fill="#f1a2c5" stroke="#e17eab" stroke-width="0.9"/>
<circle cx="119.2" cy="609.84" r="3.45" fill="#f1a2c5" stroke="#e17eab" stroke-width="0.9"/>
<circle cx="129.65" cy="609.84" r="3.45" fill="#f1a2c5" stroke="#e17eab" stroke-width="0.9"/>
<rect x="66.4" y="570" width="71.2" height="46.5" rx="1.5" fill="none" stroke="#e8f2f6" stroke-width="0.6"/>
<rect x="77.2" y="571.8" width="0.5" height="1.2" fill="#7a8a90"/>
<rect x="87.65" y="571.8" width="0.5" height="1.2" fill="#7a8a90"/>
<rect x="98.1" y="571.8" width="0.5" height="1.2" fill="#7a8a90"/>
<rect x="108.55" y="571.8" width="0.5" height="1.2" fill="#7a8a90"/>
<rect x="119" y="571.8" width="0.5" height="1.2" fill="#7a8a90"/>
<rect x="129.45" y="571.8" width="0.5" height="1.2" fill="#7a8a90"/>
<rect x="70.8" y="578.4" width="1.1" height="0.6" fill="#7a8a90"/>
<rect x="70.8" y="588.78" width="1.1" height="0.6" fill="#7a8a90"/>
<rect x="70.8" y="599.16" width="1.1" height="0.6" fill="#7a8a90"/>
<rect x="70.8" y="609.54" width="1.1" height="0.6" fill="#7a8a90"/>
<line x1="49.4" y1="579.9" x2="77.5" y2="584.4" stroke="#231f20" stroke-width="0.95"/>
<line x1="51" y1="603.6" x2="76.8" y2="592" stroke="#231f20" stroke-width="0.95"/>
<text x="143.1" y="588.4" font-size="7.9" fill="#231f20">1. Ctrl</text>
<text x="143.1" y="597.6" font-size="7.9" fill="#231f20">2. PAM<tspan font-size="4.9" dy="1.6">3</tspan><tspan dy="-1.6">CSK</tspan><tspan font-size="4.9" dy="1.6">4</tspan></text>
<text x="143.1" y="607.3" font-size="7.9" fill="#231f20" textLength="79" lengthAdjust="spacingAndGlyphs">3. PAM<tspan font-size="4.9" dy="1.6">3</tspan><tspan dy="-1.6">CSK</tspan><tspan font-size="4.9" dy="1.6">4</tspan><tspan dy="-1.6">+Anakinra</tspan></text>
<line x1="102.2" y1="623" x2="102.2" y2="643" stroke="#231f20" stroke-width="0.95"/>
<path d="M99.9 641.2 L102.2 645.8 L104.5 641.2 Z" fill="#231f20"/>
<text x="106.3" y="636.3" font-size="8.0" fill="#231f20">CM</text>
<rect x="36.4" y="648" width="76.2" height="54.3" rx="2.5" fill="#dbeaf0" stroke="#bcd5de" stroke-width="0.8"/>
<circle cx="46.5" cy="656.7" r="1.85" fill="#f1a2c5" stroke="#e17eab" stroke-width="0.5"/>
<circle cx="51.86" cy="656.7" r="1.85" fill="#f1a2c5" stroke="#e17eab" stroke-width="0.5"/>
<circle cx="57.22" cy="656.7" r="1.85" fill="#f1a2c5" stroke="#e17eab" stroke-width="0.5"/>
<circle cx="62.58" cy="656.7" r="1.85" fill="#f1a2c5" stroke="#e17eab" stroke-width="0.5"/>
<circle cx="67.94" cy="656.7" r="1.85" fill="#f1a2c5" stroke="#e17eab" stroke-width="0.5"/>
<circle cx="73.3" cy="656.7" r="1.85" fill="#f1a2c5" stroke="#e17eab" stroke-width="0.5"/>
<circle cx="78.66" cy="656.7" r="1.85" fill="#f1a2c5" stroke="#e17eab" stroke-width="0.5"/>
<circle cx="84.02" cy="656.7" r="1.85" fill="#f1a2c5" stroke="#e17eab" stroke-width="0.5"/>
<circle cx="89.38" cy="656.7" r="1.85" fill="#f1a2c5" stroke="#e17eab" stroke-width="0.5"/>
<circle cx="94.74" cy="656.7" r="1.85" fill="#f1a2c5" stroke="#e17eab" stroke-width="0.5"/>
<circle cx="100.1" cy="656.7" r="1.85" fill="#f1a2c5" stroke="#e17eab" stroke-width="0.5"/>
<circle cx="105.46" cy="656.7" r="1.85" fill="#f1a2c5" stroke="#e17eab" stroke-width="0.5"/>
<circle cx="46.5" cy="662.1" r="1.85" fill="#f1a2c5" stroke="#e17eab" stroke-width="0.5"/>
<circle cx="51.86" cy="662.1" r="1.85" fill="#f1a2c5" stroke="#e17eab" stroke-width="0.5"/>
<circle cx="57.22" cy="662.1" r="1.85" fill="#f1a2c5" stroke="#e17eab" stroke-width="0.5"/>
<circle cx="62.58" cy="662.1" r="1.85" fill="#f1a2c5" stroke="#e17eab" stroke-width="0.5"/>
<circle cx="67.94" cy="662.1" r="1.85" fill="#f1a2c5" stroke="#e17eab" stroke-width="0.5"/>
<circle cx="73.3" cy="662.1" r="1.85" fill="#f1a2c5" stroke="#e17eab" stroke-width="0.5"/>
<circle cx="78.66" cy="662.1" r="1.85" fill="#f1a2c5" stroke="#e17eab" stroke-width="0.5"/>
<circle cx="84.02" cy="662.1" r="1.85" fill="#f1a2c5" stroke="#e17eab" stroke-width="0.5"/>
<circle cx="89.38" cy="662.1" r="1.85" fill="#f1a2c5" stroke="#e17eab" stroke-width="0.5"/>
<circle cx="94.74" cy="662.1" r="1.85" fill="#f1a2c5" stroke="#e17eab" stroke-width="0.5"/>
<circle cx="100.1" cy="662.1" r="1.85" fill="#f1a2c5" stroke="#e17eab" stroke-width="0.5"/>
<circle cx="105.46" cy="662.1" r="1.85" fill="#f1a2c5" stroke="#e17eab" stroke-width="0.5"/>
<circle cx="46.5" cy="667.5" r="1.85" fill="#f1a2c5" stroke="#e17eab" stroke-width="0.5"/>
<circle cx="51.86" cy="667.5" r="1.85" fill="#f1a2c5" stroke="#e17eab" stroke-width="0.5"/>
<circle cx="57.22" cy="667.5" r="1.85" fill="#f1a2c5" stroke="#e17eab" stroke-width="0.5"/>
<circle cx="62.58" cy="667.5" r="1.85" fill="#f1a2c5" stroke="#e17eab" stroke-width="0.5"/>
<circle cx="67.94" cy="667.5" r="1.85" fill="#f1a2c5" stroke="#e17eab" stroke-width="0.5"/>
<circle cx="73.3" cy="667.5" r="1.85" fill="#f1a2c5" stroke="#e17eab" stroke-width="0.5"/>
<circle cx="78.66" cy="667.5" r="1.85" fill="#f1a2c5" stroke="#e17eab" stroke-width="0.5"/>
<circle cx="84.02" cy="667.5" r="1.85" fill="#f1a2c5" stroke="#e17eab" stroke-width="0.5"/>
<circle cx="89.38" cy="667.5" r="1.85" fill="#f1a2c5" stroke="#e17eab" stroke-width="0.5"/>
<circle cx="94.74" cy="667.5" r="1.85" fill="#f1a2c5" stroke="#e17eab" stroke-width="0.5"/>
<circle cx="100.1" cy="667.5" r="1.85" fill="#f1a2c5" stroke="#e17eab" stroke-width="0.5"/>
<circle cx="105.46" cy="667.5" r="1.85" fill="#f1a2c5" stroke="#e17eab" stroke-width="0.5"/>
<circle cx="46.5" cy="672.9" r="1.85" fill="#f1a2c5" stroke="#e17eab" stroke-width="0.5"/>
<circle cx="51.86" cy="672.9" r="1.85" fill="#f1a2c5" stroke="#e17eab" stroke-width="0.5"/>
<circle cx="57.22" cy="672.9" r="1.85" fill="#f1a2c5" stroke="#e17eab" stroke-width="0.5"/>
<circle cx="62.58" cy="672.9" r="1.85" fill="#f1a2c5" stroke="#e17eab" stroke-width="0.5"/>
<circle cx="67.94" cy="672.9" r="1.85" fill="#f1a2c5" stroke="#e17eab" stroke-width="0.5"/>
<circle cx="73.3" cy="672.9" r="1.85" fill="#f1a2c5" stroke="#e17eab" stroke-width="0.5"/>
<circle cx="78.66" cy="672.9" r="1.85" fill="#f1a2c5" stroke="#e17eab" stroke-width="0.5"/>
<circle cx="84.02" cy="672.9" r="1.85" fill="#f1a2c5" stroke="#e17eab" stroke-width="0.5"/>
<circle cx="89.38" cy="672.9" r="1.85" fill="#f1a2c5" stroke="#e17eab" stroke-width="0.5"/>
<circle cx="94.74" cy="672.9" r="1.85" fill="#f1a2c5" stroke="#e17eab" stroke-width="0.5"/>
<circle cx="100.1" cy="672.9" r="1.85" fill="#f1a2c5" stroke="#e17eab" stroke-width="0.5"/>
<circle cx="105.46" cy="672.9" r="1.85" fill="#f1a2c5" stroke="#e17eab" stroke-width="0.5"/>
<circle cx="46.5" cy="678.3" r="1.85" fill="#f1a2c5" stroke="#e17eab" stroke-width="0.5"/>
<circle cx="51.86" cy="678.3" r="1.85" fill="#f1a2c5" stroke="#e17eab" stroke-width="0.5"/>
<circle cx="57.22" cy="678.3" r="1.85" fill="#f1a2c5" stroke="#e17eab" stroke-width="0.5"/>
<circle cx="62.58" cy="678.3" r="1.85" fill="#f1a2c5" stroke="#e17eab" stroke-width="0.5"/>
<circle cx="67.94" cy="678.3" r="1.85" fill="#f1a2c5" stroke="#e17eab" stroke-width="0.5"/>
<circle cx="73.3" cy="678.3" r="1.85" fill="#f1a2c5" stroke="#e17eab" stroke-width="0.5"/>
<circle cx="78.66" cy="678.3" r="1.85" fill="#f1a2c5" stroke="#e17eab" stroke-width="0.5"/>
<circle cx="84.02" cy="678.3" r="1.85" fill="#f1a2c5" stroke="#e17eab" stroke-width="0.5"/>
<circle cx="89.38" cy="678.3" r="1.85" fill="#f1a2c5" stroke="#e17eab" stroke-width="0.5"/>
<circle cx="94.74" cy="678.3" r="1.85" fill="#f1a2c5" stroke="#e17eab" stroke-width="0.5"/>
<circle cx="100.1" cy="678.3" r="1.85" fill="#f1a2c5" stroke="#e17eab" stroke-width="0.5"/>
<circle cx="105.46" cy="678.3" r="1.85" fill="#f1a2c5" stroke="#e17eab" stroke-width="0.5"/>
<circle cx="46.5" cy="683.7" r="1.85" fill="#f1a2c5" stroke="#e17eab" stroke-width="0.5"/>
<circle cx="51.86" cy="683.7" r="1.85" fill="#f1a2c5" stroke="#e17eab" stroke-width="0.5"/>
<circle cx="57.22" cy="683.7" r="1.85" fill="#f1a2c5" stroke="#e17eab" stroke-width="0.5"/>
<circle cx="62.58" cy="683.7" r="1.85" fill="#f1a2c5" stroke="#e17eab" stroke-width="0.5"/>
<circle cx="67.94" cy="683.7" r="1.85" fill="#f1a2c5" stroke="#e17eab" stroke-width="0.5"/>
<circle cx="73.3" cy="683.7" r="1.85" fill="#f1a2c5" stroke="#e17eab" stroke-width="0.5"/>
<circle cx="78.66" cy="683.7" r="1.85" fill="#f1a2c5" stroke="#e17eab" stroke-width="0.5"/>
<circle cx="84.02" cy="683.7" r="1.85" fill="#f1a2c5" stroke="#e17eab" stroke-width="0.5"/>
<circle cx="89.38" cy="683.7" r="1.85" fill="#f1a2c5" stroke="#e17eab" stroke-width="0.5"/>
<circle cx="94.74" cy="683.7" r="1.85" fill="#f1a2c5" stroke="#e17eab" stroke-width="0.5"/>
<circle cx="100.1" cy="683.7" r="1.85" fill="#f1a2c5" stroke="#e17eab" stroke-width="0.5"/>
<circle cx="105.46" cy="683.7" r="1.85" fill="#f1a2c5" stroke="#e17eab" stroke-width="0.5"/>
<circle cx="46.5" cy="689.1" r="1.85" fill="#f1a2c5" stroke="#e17eab" stroke-width="0.5"/>
<circle cx="51.86" cy="689.1" r="1.85" fill="#f1a2c5" stroke="#e17eab" stroke-width="0.5"/>
<circle cx="57.22" cy="689.1" r="1.85" fill="#f1a2c5" stroke="#e17eab" stroke-width="0.5"/>
<circle cx="62.58" cy="689.1" r="1.85" fill="#f1a2c5" stroke="#e17eab" stroke-width="0.5"/>
<circle cx="67.94" cy="689.1" r="1.85" fill="#f1a2c5" stroke="#e17eab" stroke-width="0.5"/>
<circle cx="73.3" cy="689.1" r="1.85" fill="#f1a2c5" stroke="#e17eab" stroke-width="0.5"/>
<circle cx="78.66" cy="689.1" r="1.85" fill="#f1a2c5" stroke="#e17eab" stroke-width="0.5"/>
<circle cx="84.02" cy="689.1" r="1.85" fill="#f1a2c5" stroke="#e17eab" stroke-width="0.5"/>
<circle cx="89.38" cy="689.1" r="1.85" fill="#f1a2c5" stroke="#e17eab" stroke-width="0.5"/>
<circle cx="94.74" cy="689.1" r="1.85" fill="#f1a2c5" stroke="#e17eab" stroke-width="0.5"/>
<circle cx="100.1" cy="689.1" r="1.85" fill="#f1a2c5" stroke="#e17eab" stroke-width="0.5"/>
<circle cx="105.46" cy="689.1" r="1.85" fill="#f1a2c5" stroke="#e17eab" stroke-width="0.5"/>
<circle cx="46.5" cy="694.5" r="1.85" fill="#f1a2c5" stroke="#e17eab" stroke-width="0.5"/>
<circle cx="51.86" cy="694.5" r="1.85" fill="#f1a2c5" stroke="#e17eab" stroke-width="0.5"/>
<circle cx="57.22" cy="694.5" r="1.85" fill="#f1a2c5" stroke="#e17eab" stroke-width="0.5"/>
<circle cx="62.58" cy="694.5" r="1.85" fill="#f1a2c5" stroke="#e17eab" stroke-width="0.5"/>
<circle cx="67.94" cy="694.5" r="1.85" fill="#f1a2c5" stroke="#e17eab" stroke-width="0.5"/>
<circle cx="73.3" cy="694.5" r="1.85" fill="#f1a2c5" stroke="#e17eab" stroke-width="0.5"/>
<circle cx="78.66" cy="694.5" r="1.85" fill="#f1a2c5" stroke="#e17eab" stroke-width="0.5"/>
<circle cx="84.02" cy="694.5" r="1.85" fill="#f1a2c5" stroke="#e17eab" stroke-width="0.5"/>
<circle cx="89.38" cy="694.5" r="1.85" fill="#f1a2c5" stroke="#e17eab" stroke-width="0.5"/>
<circle cx="94.74" cy="694.5" r="1.85" fill="#f1a2c5" stroke="#e17eab" stroke-width="0.5"/>
<circle cx="100.1" cy="694.5" r="1.85" fill="#f1a2c5" stroke="#e17eab" stroke-width="0.5"/>
<circle cx="105.46" cy="694.5" r="1.85" fill="#f1a2c5" stroke="#e17eab" stroke-width="0.5"/>
<rect x="38.4" y="650" width="72.2" height="50.3" rx="1.5" fill="none" stroke="#e8f2f6" stroke-width="0.6"/>
<rect x="46.3" y="651.6" width="0.4" height="1.0" fill="#8a9aa0"/>
<rect x="51.66" y="651.6" width="0.4" height="1.0" fill="#8a9aa0"/>
<rect x="57.02" y="651.6" width="0.4" height="1.0" fill="#8a9aa0"/>
<rect x="62.38" y="651.6" width="0.4" height="1.0" fill="#8a9aa0"/>
<rect x="67.74" y="651.6" width="0.4" height="1.0" fill="#8a9aa0"/>
<rect x="73.1" y="651.6" width="0.4" height="1.0" fill="#8a9aa0"/>
<rect x="78.46" y="651.6" width="0.4" height="1.0" fill="#8a9aa0"/>
<rect x="83.82" y="651.6" width="0.4" height="1.0" fill="#8a9aa0"/>
<rect x="89.18" y="651.6" width="0.4" height="1.0" fill="#8a9aa0"/>
<rect x="94.54" y="651.6" width="0.4" height="1.0" fill="#8a9aa0"/>
<rect x="99.9" y="651.6" width="0.4" height="1.0" fill="#8a9aa0"/>
<rect x="105.26" y="651.6" width="0.4" height="1.0" fill="#8a9aa0"/>
<rect x="42.6" y="656.5" width="0.9" height="0.45" fill="#8a9aa0"/>
<rect x="42.6" y="661.9" width="0.9" height="0.45" fill="#8a9aa0"/>
<rect x="42.6" y="667.3" width="0.9" height="0.45" fill="#8a9aa0"/>
<rect x="42.6" y="672.7" width="0.9" height="0.45" fill="#8a9aa0"/>
<rect x="42.6" y="678.1" width="0.9" height="0.45" fill="#8a9aa0"/>
<rect x="42.6" y="683.5" width="0.9" height="0.45" fill="#8a9aa0"/>
<rect x="42.6" y="688.9" width="0.9" height="0.45" fill="#8a9aa0"/>
<rect x="42.6" y="694.3" width="0.9" height="0.45" fill="#8a9aa0"/>
<line x1="106.2" y1="664.2" x2="133.2" y2="657.3" stroke="#231f20" stroke-width="0.95"/>
<line x1="106.2" y1="671.2" x2="133.2" y2="678.1" stroke="#231f20" stroke-width="0.95"/>
<circle cx="153.2" cy="668.9" r="18.7" fill="#ebd8ef" stroke="#b89ec8" stroke-width="0.9"/>
<circle cx="154.1" cy="670.0" r="14.9" fill="#c7a1d5" stroke="#b18dc3" stroke-width="0.6"/>
<text x="157" y="700.3" font-size="8.1" text-anchor="middle" textLength="78.5" lengthAdjust="spacingAndGlyphs" fill="#231f20">Sorted 100 HSCs/well</text>
<text x="271.8" y="566.8" font-size="10" font-weight="bold" fill="#000">L</text>
<line x1="312.3" y1="592.7" x2="312.3" y2="683.5" stroke="#231f20" stroke-width="1.15"/>
<line x1="309.3" y1="683" x2="312.3" y2="683" stroke="#231f20" stroke-width="1.0"/>
<text x="305.8" y="685.75" font-size="7.7" text-anchor="end" fill="#231f20">0</text>
<line x1="309.3" y1="661.46" x2="312.3" y2="661.46" stroke="#231f20" stroke-width="1.0"/>
<text x="305.8" y="664.21" font-size="7.7" text-anchor="end" textLength="17.2" lengthAdjust="spacingAndGlyphs" fill="#231f20">3000</text>
<line x1="309.3" y1="639.92" x2="312.3" y2="639.92" stroke="#231f20" stroke-width="1.0"/>
<text x="305.8" y="642.67" font-size="7.7" text-anchor="end" textLength="17.2" lengthAdjust="spacingAndGlyphs" fill="#231f20">6000</text>
<line x1="309.3" y1="618.38" x2="312.3" y2="618.38" stroke="#231f20" stroke-width="1.0"/>
<text x="305.8" y="621.13" font-size="7.7" text-anchor="end" textLength="17.2" lengthAdjust="spacingAndGlyphs" fill="#231f20">9000</text>
<line x1="309.3" y1="596.84" x2="312.3" y2="596.84" stroke="#231f20" stroke-width="1.0"/>
<text x="305.8" y="599.59" font-size="7.7" text-anchor="end" textLength="21.5" lengthAdjust="spacingAndGlyphs" fill="#231f20">12000</text>
<line x1="311.8" y1="683" x2="433" y2="683" stroke="#231f20" stroke-width="1.1"/>
<line x1="343.5" y1="683" x2="343.5" y2="685.4" stroke="#231f20" stroke-width="0.9"/>
<line x1="406.9" y1="683" x2="406.9" y2="685.4" stroke="#231f20" stroke-width="0.9"/>
<text x="0" y="0" font-size="8.2" text-anchor="middle" fill="#231f20" transform="translate(279.0 637.6) rotate(-90)" textLength="68" lengthAdjust="spacingAndGlyphs">Lineage<tspan font-size="4.8" dy="-3.2">−</tspan><tspan dy="3.2"> c-Kit</tspan><tspan font-size="4.8" dy="-3.2">+</tspan><tspan dy="3.2"> cells</tspan></text>
<text x="343.5" y="695.8" font-size="8" text-anchor="middle" fill="#231f20">No DC CM</text>
<text x="406.9" y="695.8" font-size="8" text-anchor="middle" fill="#231f20">DC CM</text>
<circle cx="325.2" cy="657.3" r="1.6" fill="#1c4b77"/>
<circle cx="325.2" cy="662.18" r="1.6" fill="#1c4b77"/>
<circle cx="325.2" cy="672.09" r="1.6" fill="#1c4b77"/>
<line x1="318.7" y1="663.47" x2="331.7" y2="663.47" stroke="#231f20" stroke-width="1.05"/>
<line x1="325.2" y1="659.52" x2="325.2" y2="668.14" stroke="#231f20" stroke-width="1.05"/>
<line x1="321.7" y1="659.52" x2="328.7" y2="659.52" stroke="#231f20" stroke-width="1.05"/>
<line x1="321.7" y1="668.14" x2="328.7" y2="668.14" stroke="#231f20" stroke-width="1.05"/>
<rect x="342.05" y="655.06" width="2.9" height="2.9" fill="#bb1440"/>
<rect x="338.05" y="671.28" width="2.9" height="2.9" fill="#bb1440"/>
<rect x="346.05" y="669.85" width="2.9" height="2.9" fill="#bb1440"/>
<rect x="342.05" y="663.6" width="2.9" height="2.9" fill="#bb1440"/>
<line x1="337" y1="665.91" x2="350" y2="665.91" stroke="#231f20" stroke-width="1.05"/>
<line x1="343.5" y1="661.46" x2="343.5" y2="670.79" stroke="#231f20" stroke-width="1.05"/>
<line x1="340" y1="661.46" x2="347" y2="661.46" stroke="#231f20" stroke-width="1.05"/>
<line x1="340" y1="670.79" x2="347" y2="670.79" stroke="#231f20" stroke-width="1.05"/>
<path d="M358.3 664.34 L360.42 668.28 L356.18 668.28Z" fill="#2f8b4f"/>
<path d="M366.3 665.13 L368.42 669.07 L364.18 669.07Z" fill="#2f8b4f"/>
<path d="M362.3 671.95 L364.42 675.89 L360.18 675.89Z" fill="#2f8b4f"/>
<path d="M362.3 665.56 L364.42 669.5 L360.18 669.5Z" fill="#2f8b4f"/>
<line x1="355.8" y1="668.64" x2="368.8" y2="668.64" stroke="#231f20" stroke-width="1.05"/>
<line x1="362.3" y1="665.91" x2="362.3" y2="671.3" stroke="#231f20" stroke-width="1.05"/>
<line x1="358.8" y1="665.91" x2="365.8" y2="665.91" stroke="#231f20" stroke-width="1.05"/>
<line x1="358.8" y1="671.3" x2="365.8" y2="671.3" stroke="#231f20" stroke-width="1.05"/>
<circle cx="388.9" cy="621.25" r="1.6" fill="#1c4b77"/>
<circle cx="388.9" cy="623.41" r="1.6" fill="#1c4b77"/>
<circle cx="388.9" cy="642.07" r="1.6" fill="#1c4b77"/>
<line x1="382.4" y1="629.37" x2="395.4" y2="629.37" stroke="#231f20" stroke-width="1.05"/>
<line x1="388.9" y1="623.84" x2="388.9" y2="635.4" stroke="#231f20" stroke-width="1.05"/>
<line x1="385.4" y1="623.84" x2="392.4" y2="623.84" stroke="#231f20" stroke-width="1.05"/>
<line x1="385.4" y1="635.4" x2="392.4" y2="635.4" stroke="#231f20" stroke-width="1.05"/>
<rect x="401.95" y="603.65" width="2.9" height="2.9" fill="#bb1440"/>
<rect x="405.45" y="600.42" width="2.9" height="2.9" fill="#bb1440"/>
<rect x="408.95" y="603.29" width="2.9" height="2.9" fill="#bb1440"/>
<rect x="405.45" y="604.01" width="2.9" height="2.9" fill="#bb1440"/>
<line x1="400.4" y1="604.02" x2="413.4" y2="604.02" stroke="#231f20" stroke-width="1.05"/>
<line x1="406.9" y1="602.94" x2="406.9" y2="605.1" stroke="#231f20" stroke-width="1.05"/>
<line x1="403.4" y1="602.94" x2="410.4" y2="602.94" stroke="#231f20" stroke-width="1.05"/>
<line x1="403.4" y1="605.1" x2="410.4" y2="605.1" stroke="#231f20" stroke-width="1.05"/>
<path d="M425.8 616.02 L427.92 619.96 L423.68 619.96Z" fill="#2f8b4f"/>
<path d="M425.8 622.48 L427.92 626.42 L423.68 626.42Z" fill="#2f8b4f"/>
<path d="M425.8 629.66 L427.92 633.6 L423.68 633.6Z" fill="#2f8b4f"/>
<line x1="419.3" y1="623.76" x2="432.3" y2="623.76" stroke="#231f20" stroke-width="1.05"/>
<line x1="425.8" y1="619.82" x2="425.8" y2="627.36" stroke="#231f20" stroke-width="1.05"/>
<line x1="422.3" y1="619.82" x2="429.3" y2="619.82" stroke="#231f20" stroke-width="1.05"/>
<line x1="422.3" y1="627.36" x2="429.3" y2="627.36" stroke="#231f20" stroke-width="1.05"/>
<path d="M388.9 592.9 L388.9 592.9 L405.6 592.9 L405.6 592.9" fill="none" stroke="#231f20" stroke-width="1.05"/>
<text x="397.3" y="592.9" font-size="8.6" text-anchor="middle" fill="#231f20">**</text>
<path d="M409 592.9 L409 592.9 L425.8 592.9 L425.8 592.9" fill="none" stroke="#231f20" stroke-width="1.05"/>
<text x="417.2" y="592.9" font-size="8.6" text-anchor="middle" fill="#231f20">*</text>
<circle cx="442.7" cy="596.9" r="1.55" fill="#1c4b77"/>
<text x="447.9" y="599.7" font-size="8.1" fill="#231f20">Ctrl</text>
<rect x="441.3" y="605.8" width="2.8" height="2.8" fill="#bb1440"/>
<text x="447.9" y="610" font-size="8.1" textLength="36" lengthAdjust="spacingAndGlyphs" fill="#231f20">PAM<tspan font-size="5.02" dy="1.6">3</tspan><tspan dy="-1.6">CSK</tspan><tspan font-size="5.02" dy="1.6">4</tspan><tspan dy="-1.6"></tspan></text>
<path d="M442.7 615.54 L444.82 619.48 L440.58 619.48Z" fill="#2f8b4f"/>
<text x="447.9" y="620.7" font-size="8.1" textLength="71.3" lengthAdjust="spacingAndGlyphs" fill="#231f20">PAM<tspan font-size="5.02" dy="1.6">3</tspan><tspan dy="-1.6">CSK</tspan><tspan font-size="5.02" dy="1.6">4</tspan><tspan dy="-1.6">+Anakinra</tspan></text>
</svg>
</body></html>
